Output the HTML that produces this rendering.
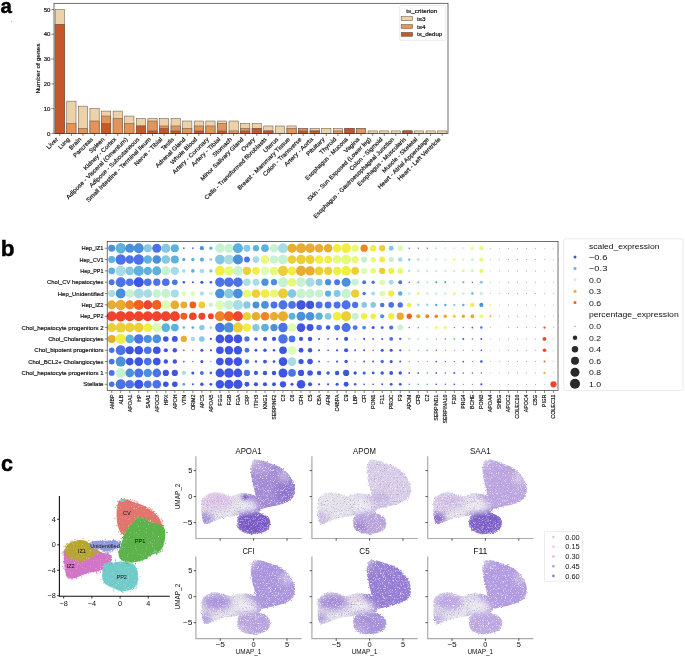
<!DOCTYPE html><html><head><meta charset="utf-8"><style>html,body{margin:0;padding:0;background:#fff;}svg{display:block;}text{font-family:"Liberation Sans",sans-serif;fill:#111;}.s{stroke:#111;stroke-width:0.18px;paint-order:stroke;}.m{stroke:#111;stroke-width:0.08px;}.L{fill:#000;stroke:#000;stroke-width:0.45px;}svg{will-change:transform;}</style></head><body>
<svg width="685" height="657" viewBox="0 0 685 657">
<defs><filter id="rough" x="-10%" y="-10%" width="120%" height="120%"><feTurbulence type="fractalNoise" baseFrequency="0.6" numOctaves="2" seed="3" result="n"/><feDisplacementMap in="SourceGraphic" in2="n" scale="2.2" xChannelSelector="R" yChannelSelector="G"/></filter><filter id="edge" x="-10%" y="-10%" width="120%" height="120%"><feTurbulence type="fractalNoise" baseFrequency="0.7" numOctaves="2" seed="5" result="n"/><feDisplacementMap in="SourceGraphic" in2="n" scale="3" xChannelSelector="R" yChannelSelector="G" result="d"/><feGaussianBlur in="d" stdDeviation="0.5"/></filter><filter id="blur" x="-30%" y="-30%" width="160%" height="160%"><feGaussianBlur stdDeviation="3"/></filter><filter id="blur1" x="-50%" y="-50%" width="200%" height="200%"><feGaussianBlur stdDeviation="1"/></filter><filter id="spkw" x="0" y="0" width="100%" height="100%"><feTurbulence type="fractalNoise" baseFrequency="1.6" numOctaves="1" seed="11"/><feColorMatrix type="matrix" values="0 0 0 0 1  0 0 0 0 1  0 0 0 0 1  3 0 0 0 -1.62"/></filter><filter id="spkp" x="0" y="0" width="100%" height="100%"><feTurbulence type="fractalNoise" baseFrequency="1.3" numOctaves="1" seed="23"/><feColorMatrix type="matrix" values="0 0 0 0 0.42  0 0 0 0 0.3  0 0 0 0 0.75  4 0 0 0 -2.3"/></filter><filter id="spkw2" x="0" y="0" width="100%" height="100%"><feTurbulence type="fractalNoise" baseFrequency="1.5" numOctaves="1" seed="4"/><feColorMatrix type="matrix" values="0 0 0 0 1  0 0 0 0 1  0 0 0 0 1  3 0 0 0 -1.95"/><feComposite in2="SourceGraphic" operator="in"/></filter></defs>
<rect width="685" height="657" fill="#fff"/>
<text x="0.6" y="12.6" font-size="20.5" font-weight="bold" class="L">a</text>
<circle cx="11.4" cy="21.4" r="0.5" fill="#999"/>
<rect x="55.16" y="9.5" width="9.27" height="123.9" fill="#ecd2aa" stroke="#6e5a48" stroke-width="0.55"/>
<rect x="55.16" y="24.36" width="9.27" height="109.04" fill="#e3945a" stroke="#6e5a48" stroke-width="0.55"/>
<rect x="55.16" y="24.36" width="9.27" height="109.04" fill="#c5582a" stroke="#6e5a48" stroke-width="0.55"/>
<rect x="66.75" y="101.18" width="9.27" height="32.22" fill="#ecd2aa" stroke="#6e5a48" stroke-width="0.55"/>
<rect x="66.75" y="123.49" width="9.27" height="9.91" fill="#e3945a" stroke="#6e5a48" stroke-width="0.55"/>
<rect x="78.34" y="106.14" width="9.27" height="27.26" fill="#ecd2aa" stroke="#6e5a48" stroke-width="0.55"/>
<rect x="78.34" y="128.44" width="9.27" height="4.96" fill="#e3945a" stroke="#6e5a48" stroke-width="0.55"/>
<rect x="89.92" y="108.62" width="9.27" height="24.78" fill="#ecd2aa" stroke="#6e5a48" stroke-width="0.55"/>
<rect x="89.92" y="121.01" width="9.27" height="12.39" fill="#e3945a" stroke="#6e5a48" stroke-width="0.55"/>
<rect x="101.51" y="111.1" width="9.27" height="22.3" fill="#ecd2aa" stroke="#6e5a48" stroke-width="0.55"/>
<rect x="101.51" y="116.05" width="9.27" height="17.35" fill="#e3945a" stroke="#6e5a48" stroke-width="0.55"/>
<rect x="101.51" y="123.49" width="9.27" height="9.91" fill="#c5582a" stroke="#6e5a48" stroke-width="0.55"/>
<rect x="113.1" y="111.1" width="9.27" height="22.3" fill="#ecd2aa" stroke="#6e5a48" stroke-width="0.55"/>
<rect x="113.1" y="118.53" width="9.27" height="14.87" fill="#e3945a" stroke="#6e5a48" stroke-width="0.55"/>
<rect x="124.69" y="116.05" width="9.27" height="17.35" fill="#ecd2aa" stroke="#6e5a48" stroke-width="0.55"/>
<rect x="124.69" y="123.49" width="9.27" height="9.91" fill="#e3945a" stroke="#6e5a48" stroke-width="0.55"/>
<rect x="136.28" y="118.53" width="9.27" height="14.87" fill="#ecd2aa" stroke="#6e5a48" stroke-width="0.55"/>
<rect x="136.28" y="125.97" width="9.27" height="7.43" fill="#e3945a" stroke="#6e5a48" stroke-width="0.55"/>
<rect x="136.28" y="125.97" width="9.27" height="7.43" fill="#c5582a" stroke="#6e5a48" stroke-width="0.55"/>
<rect x="147.86" y="118.53" width="9.27" height="14.87" fill="#ecd2aa" stroke="#6e5a48" stroke-width="0.55"/>
<rect x="147.86" y="121.01" width="9.27" height="12.39" fill="#e3945a" stroke="#6e5a48" stroke-width="0.55"/>
<rect x="147.86" y="130.92" width="9.27" height="2.48" fill="#c5582a" stroke="#6e5a48" stroke-width="0.55"/>
<rect x="159.45" y="118.53" width="9.27" height="14.87" fill="#ecd2aa" stroke="#6e5a48" stroke-width="0.55"/>
<rect x="159.45" y="125.97" width="9.27" height="7.43" fill="#e3945a" stroke="#6e5a48" stroke-width="0.55"/>
<rect x="159.45" y="128.44" width="9.27" height="4.96" fill="#c5582a" stroke="#6e5a48" stroke-width="0.55"/>
<rect x="171.04" y="118.53" width="9.27" height="14.87" fill="#ecd2aa" stroke="#6e5a48" stroke-width="0.55"/>
<rect x="171.04" y="125.97" width="9.27" height="7.43" fill="#e3945a" stroke="#6e5a48" stroke-width="0.55"/>
<rect x="171.04" y="130.92" width="9.27" height="2.48" fill="#c5582a" stroke="#6e5a48" stroke-width="0.55"/>
<rect x="182.63" y="121.01" width="9.27" height="12.39" fill="#ecd2aa" stroke="#6e5a48" stroke-width="0.55"/>
<rect x="182.63" y="128.44" width="9.27" height="4.96" fill="#e3945a" stroke="#6e5a48" stroke-width="0.55"/>
<rect x="194.22" y="121.01" width="9.27" height="12.39" fill="#ecd2aa" stroke="#6e5a48" stroke-width="0.55"/>
<rect x="194.22" y="125.97" width="9.27" height="7.43" fill="#e3945a" stroke="#6e5a48" stroke-width="0.55"/>
<rect x="194.22" y="130.92" width="9.27" height="2.48" fill="#c5582a" stroke="#6e5a48" stroke-width="0.55"/>
<rect x="205.81" y="121.01" width="9.27" height="12.39" fill="#ecd2aa" stroke="#6e5a48" stroke-width="0.55"/>
<rect x="205.81" y="125.97" width="9.27" height="7.43" fill="#e3945a" stroke="#6e5a48" stroke-width="0.55"/>
<rect x="217.39" y="121.01" width="9.27" height="12.39" fill="#ecd2aa" stroke="#6e5a48" stroke-width="0.55"/>
<rect x="217.39" y="123.49" width="9.27" height="9.91" fill="#e3945a" stroke="#6e5a48" stroke-width="0.55"/>
<rect x="217.39" y="130.92" width="9.27" height="2.48" fill="#c5582a" stroke="#6e5a48" stroke-width="0.55"/>
<rect x="228.98" y="121.01" width="9.27" height="12.39" fill="#ecd2aa" stroke="#6e5a48" stroke-width="0.55"/>
<rect x="228.98" y="130.92" width="9.27" height="2.48" fill="#e3945a" stroke="#6e5a48" stroke-width="0.55"/>
<rect x="240.57" y="123.49" width="9.27" height="9.91" fill="#ecd2aa" stroke="#6e5a48" stroke-width="0.55"/>
<rect x="240.57" y="128.44" width="9.27" height="4.96" fill="#e3945a" stroke="#6e5a48" stroke-width="0.55"/>
<rect x="240.57" y="130.92" width="9.27" height="2.48" fill="#c5582a" stroke="#6e5a48" stroke-width="0.55"/>
<rect x="252.16" y="123.49" width="9.27" height="9.91" fill="#ecd2aa" stroke="#6e5a48" stroke-width="0.55"/>
<rect x="252.16" y="128.44" width="9.27" height="4.96" fill="#e3945a" stroke="#6e5a48" stroke-width="0.55"/>
<rect x="252.16" y="128.44" width="9.27" height="4.96" fill="#c5582a" stroke="#6e5a48" stroke-width="0.55"/>
<rect x="263.75" y="125.97" width="9.27" height="7.43" fill="#ecd2aa" stroke="#6e5a48" stroke-width="0.55"/>
<rect x="263.75" y="130.92" width="9.27" height="2.48" fill="#e3945a" stroke="#6e5a48" stroke-width="0.55"/>
<rect x="263.75" y="130.92" width="9.27" height="2.48" fill="#c5582a" stroke="#6e5a48" stroke-width="0.55"/>
<rect x="275.34" y="125.97" width="9.27" height="7.43" fill="#ecd2aa" stroke="#6e5a48" stroke-width="0.55"/>
<rect x="286.92" y="125.97" width="9.27" height="7.43" fill="#ecd2aa" stroke="#6e5a48" stroke-width="0.55"/>
<rect x="286.92" y="128.44" width="9.27" height="4.96" fill="#e3945a" stroke="#6e5a48" stroke-width="0.55"/>
<rect x="298.51" y="128.44" width="9.27" height="4.96" fill="#ecd2aa" stroke="#6e5a48" stroke-width="0.55"/>
<rect x="298.51" y="128.44" width="9.27" height="4.96" fill="#e3945a" stroke="#6e5a48" stroke-width="0.55"/>
<rect x="298.51" y="130.92" width="9.27" height="2.48" fill="#c5582a" stroke="#6e5a48" stroke-width="0.55"/>
<rect x="310.1" y="128.44" width="9.27" height="4.96" fill="#ecd2aa" stroke="#6e5a48" stroke-width="0.55"/>
<rect x="310.1" y="130.92" width="9.27" height="2.48" fill="#e3945a" stroke="#6e5a48" stroke-width="0.55"/>
<rect x="310.1" y="130.92" width="9.27" height="2.48" fill="#c5582a" stroke="#6e5a48" stroke-width="0.55"/>
<rect x="321.69" y="128.44" width="9.27" height="4.96" fill="#ecd2aa" stroke="#6e5a48" stroke-width="0.55"/>
<rect x="333.28" y="128.44" width="9.27" height="4.96" fill="#ecd2aa" stroke="#6e5a48" stroke-width="0.55"/>
<rect x="333.28" y="130.92" width="9.27" height="2.48" fill="#e3945a" stroke="#6e5a48" stroke-width="0.55"/>
<rect x="344.86" y="128.44" width="9.27" height="4.96" fill="#ecd2aa" stroke="#6e5a48" stroke-width="0.55"/>
<rect x="344.86" y="128.44" width="9.27" height="4.96" fill="#e3945a" stroke="#6e5a48" stroke-width="0.55"/>
<rect x="344.86" y="128.44" width="9.27" height="4.96" fill="#c5582a" stroke="#6e5a48" stroke-width="0.55"/>
<rect x="356.45" y="128.44" width="9.27" height="4.96" fill="#ecd2aa" stroke="#6e5a48" stroke-width="0.55"/>
<rect x="356.45" y="128.44" width="9.27" height="4.96" fill="#e3945a" stroke="#6e5a48" stroke-width="0.55"/>
<rect x="368.04" y="130.92" width="9.27" height="2.48" fill="#ecd2aa" stroke="#6e5a48" stroke-width="0.55"/>
<rect x="379.63" y="130.92" width="9.27" height="2.48" fill="#ecd2aa" stroke="#6e5a48" stroke-width="0.55"/>
<rect x="391.22" y="130.92" width="9.27" height="2.48" fill="#ecd2aa" stroke="#6e5a48" stroke-width="0.55"/>
<rect x="402.81" y="130.92" width="9.27" height="2.48" fill="#ecd2aa" stroke="#6e5a48" stroke-width="0.55"/>
<rect x="402.81" y="130.92" width="9.27" height="2.48" fill="#e3945a" stroke="#6e5a48" stroke-width="0.55"/>
<rect x="402.81" y="130.92" width="9.27" height="2.48" fill="#c5582a" stroke="#6e5a48" stroke-width="0.55"/>
<rect x="414.39" y="130.92" width="9.27" height="2.48" fill="#ecd2aa" stroke="#6e5a48" stroke-width="0.55"/>
<rect x="425.98" y="130.92" width="9.27" height="2.48" fill="#ecd2aa" stroke="#6e5a48" stroke-width="0.55"/>
<rect x="437.57" y="130.92" width="9.27" height="2.48" fill="#ecd2aa" stroke="#6e5a48" stroke-width="0.55"/>
<rect x="54.0" y="3.3" width="394.0" height="130.1" fill="none" stroke="#333" stroke-width="0.7"/>
<line x1="51.4" y1="133.4" x2="54.0" y2="133.4" stroke="#333" stroke-width="0.6"/>
<text x="50.4" y="135.5" font-size="5.51" text-anchor="end" class="s" textLength="3.37" lengthAdjust="spacingAndGlyphs">0</text>
<line x1="51.4" y1="108.62" x2="54.0" y2="108.62" stroke="#333" stroke-width="0.6"/>
<text x="50.4" y="110.72" font-size="5.51" text-anchor="end" class="s" textLength="6.74" lengthAdjust="spacingAndGlyphs">10</text>
<line x1="51.4" y1="83.84" x2="54.0" y2="83.84" stroke="#333" stroke-width="0.6"/>
<text x="50.4" y="85.94" font-size="5.51" text-anchor="end" class="s" textLength="6.74" lengthAdjust="spacingAndGlyphs">20</text>
<line x1="51.4" y1="59.06" x2="54.0" y2="59.06" stroke="#333" stroke-width="0.6"/>
<text x="50.4" y="61.16" font-size="5.51" text-anchor="end" class="s" textLength="6.74" lengthAdjust="spacingAndGlyphs">30</text>
<line x1="51.4" y1="34.28" x2="54.0" y2="34.28" stroke="#333" stroke-width="0.6"/>
<text x="50.4" y="36.38" font-size="5.51" text-anchor="end" class="s" textLength="6.74" lengthAdjust="spacingAndGlyphs">40</text>
<line x1="51.4" y1="9.5" x2="54.0" y2="9.5" stroke="#333" stroke-width="0.6"/>
<text x="50.4" y="11.6" font-size="5.51" text-anchor="end" class="s" textLength="6.74" lengthAdjust="spacingAndGlyphs">50</text>
<text transform="translate(40.2,68.6) rotate(-90)" font-size="6.02" text-anchor="middle" class="s" textLength="50.01" lengthAdjust="spacingAndGlyphs">Number of genes</text>
<line x1="59.79" y1="133.4" x2="59.79" y2="136.0" stroke="#333" stroke-width="0.6"/>
<text transform="translate(58.49,139.8) rotate(-45)" font-size="5.84" text-anchor="end" class="s" textLength="13.79" lengthAdjust="spacingAndGlyphs">Liver</text>
<line x1="71.38" y1="133.4" x2="71.38" y2="136.0" stroke="#333" stroke-width="0.6"/>
<text transform="translate(70.08,139.8) rotate(-45)" font-size="5.84" text-anchor="end" class="s" textLength="13.72" lengthAdjust="spacingAndGlyphs">Lung</text>
<line x1="82.97" y1="133.4" x2="82.97" y2="136.0" stroke="#333" stroke-width="0.6"/>
<text transform="translate(81.67,139.8) rotate(-45)" font-size="5.84" text-anchor="end" class="s" textLength="14.73" lengthAdjust="spacingAndGlyphs">Brain</text>
<line x1="94.56" y1="133.4" x2="94.56" y2="136.0" stroke="#333" stroke-width="0.6"/>
<text transform="translate(93.26,139.8) rotate(-45)" font-size="5.84" text-anchor="end" class="s" textLength="25.25" lengthAdjust="spacingAndGlyphs">Pancreas</text>
<line x1="106.15" y1="133.4" x2="106.15" y2="136.0" stroke="#333" stroke-width="0.6"/>
<text transform="translate(104.85,139.8) rotate(-45)" font-size="5.84" text-anchor="end" class="s" textLength="19.17" lengthAdjust="spacingAndGlyphs">Spleen</text>
<line x1="117.74" y1="133.4" x2="117.74" y2="136.0" stroke="#333" stroke-width="0.6"/>
<text transform="translate(116.44,139.8) rotate(-45)" font-size="5.84" text-anchor="end" class="s" textLength="43.32" lengthAdjust="spacingAndGlyphs">Kidney - Cortex</text>
<line x1="129.32" y1="133.4" x2="129.32" y2="136.0" stroke="#333" stroke-width="0.6"/>
<text transform="translate(128.02,139.8) rotate(-45)" font-size="5.84" text-anchor="end" class="s" textLength="84.27" lengthAdjust="spacingAndGlyphs">Adipose - Visceral (Omentum)</text>
<line x1="140.91" y1="133.4" x2="140.91" y2="136.0" stroke="#333" stroke-width="0.6"/>
<text transform="translate(139.61,139.8) rotate(-45)" font-size="5.84" text-anchor="end" class="s" textLength="67.81" lengthAdjust="spacingAndGlyphs">Adipose - Subcutaneous</text>
<line x1="152.5" y1="133.4" x2="152.5" y2="136.0" stroke="#333" stroke-width="0.6"/>
<text transform="translate(151.2,139.8) rotate(-45)" font-size="5.84" text-anchor="end" class="s" textLength="88.84" lengthAdjust="spacingAndGlyphs">Small Intestine - Terminal Ileum</text>
<line x1="164.09" y1="133.4" x2="164.09" y2="136.0" stroke="#333" stroke-width="0.6"/>
<text transform="translate(162.79,139.8) rotate(-45)" font-size="5.84" text-anchor="end" class="s" textLength="37.31" lengthAdjust="spacingAndGlyphs">Nerve - Tibial</text>
<line x1="175.68" y1="133.4" x2="175.68" y2="136.0" stroke="#333" stroke-width="0.6"/>
<text transform="translate(174.38,139.8) rotate(-45)" font-size="5.84" text-anchor="end" class="s" textLength="15.56" lengthAdjust="spacingAndGlyphs">Testis</text>
<line x1="187.26" y1="133.4" x2="187.26" y2="136.0" stroke="#333" stroke-width="0.6"/>
<text transform="translate(185.96,139.8) rotate(-45)" font-size="5.84" text-anchor="end" class="s" textLength="39.8" lengthAdjust="spacingAndGlyphs">Adrenal Gland</text>
<line x1="198.85" y1="133.4" x2="198.85" y2="136.0" stroke="#333" stroke-width="0.6"/>
<text transform="translate(197.55,139.8) rotate(-45)" font-size="5.84" text-anchor="end" class="s" textLength="35.23" lengthAdjust="spacingAndGlyphs">Whole Blood</text>
<line x1="210.44" y1="133.4" x2="210.44" y2="136.0" stroke="#333" stroke-width="0.6"/>
<text transform="translate(209.14,139.8) rotate(-45)" font-size="5.84" text-anchor="end" class="s" textLength="48.68" lengthAdjust="spacingAndGlyphs">Artery - Coronary</text>
<line x1="222.03" y1="133.4" x2="222.03" y2="136.0" stroke="#333" stroke-width="0.6"/>
<text transform="translate(220.73,139.8) rotate(-45)" font-size="5.84" text-anchor="end" class="s" textLength="38.01" lengthAdjust="spacingAndGlyphs">Artery - Tibial</text>
<line x1="233.62" y1="133.4" x2="233.62" y2="136.0" stroke="#333" stroke-width="0.6"/>
<text transform="translate(232.32,139.8) rotate(-45)" font-size="5.84" text-anchor="end" class="s" textLength="24.78" lengthAdjust="spacingAndGlyphs">Stomach</text>
<line x1="245.21" y1="133.4" x2="245.21" y2="136.0" stroke="#333" stroke-width="0.6"/>
<text transform="translate(243.91,139.8) rotate(-45)" font-size="5.84" text-anchor="end" class="s" textLength="58.32" lengthAdjust="spacingAndGlyphs">Minor Salivary Gland</text>
<line x1="256.79" y1="133.4" x2="256.79" y2="136.0" stroke="#333" stroke-width="0.6"/>
<text transform="translate(255.49,139.8) rotate(-45)" font-size="5.84" text-anchor="end" class="s" textLength="16.83" lengthAdjust="spacingAndGlyphs">Ovary</text>
<line x1="268.38" y1="133.4" x2="268.38" y2="136.0" stroke="#333" stroke-width="0.6"/>
<text transform="translate(267.08,139.8) rotate(-45)" font-size="5.84" text-anchor="end" class="s" textLength="85.16" lengthAdjust="spacingAndGlyphs">Cells - Transformed fibroblasts</text>
<line x1="279.97" y1="133.4" x2="279.97" y2="136.0" stroke="#333" stroke-width="0.6"/>
<text transform="translate(278.67,139.8) rotate(-45)" font-size="5.84" text-anchor="end" class="s" textLength="18.57" lengthAdjust="spacingAndGlyphs">Uterus</text>
<line x1="291.56" y1="133.4" x2="291.56" y2="136.0" stroke="#333" stroke-width="0.6"/>
<text transform="translate(290.26,139.8) rotate(-45)" font-size="5.84" text-anchor="end" class="s" textLength="71.48" lengthAdjust="spacingAndGlyphs">Breast - Mammary Tissue</text>
<line x1="303.15" y1="133.4" x2="303.15" y2="136.0" stroke="#333" stroke-width="0.6"/>
<text transform="translate(301.85,139.8) rotate(-45)" font-size="5.84" text-anchor="end" class="s" textLength="51.86" lengthAdjust="spacingAndGlyphs">Colon - Transverse</text>
<line x1="314.74" y1="133.4" x2="314.74" y2="136.0" stroke="#333" stroke-width="0.6"/>
<text transform="translate(313.44,139.8) rotate(-45)" font-size="5.84" text-anchor="end" class="s" textLength="38.19" lengthAdjust="spacingAndGlyphs">Artery - Aorta</text>
<line x1="326.32" y1="133.4" x2="326.32" y2="136.0" stroke="#333" stroke-width="0.6"/>
<text transform="translate(325.02,139.8) rotate(-45)" font-size="5.84" text-anchor="end" class="s" textLength="23.44" lengthAdjust="spacingAndGlyphs">Pituitary</text>
<line x1="337.91" y1="133.4" x2="337.91" y2="136.0" stroke="#333" stroke-width="0.6"/>
<text transform="translate(336.61,139.8) rotate(-45)" font-size="5.84" text-anchor="end" class="s" textLength="21.07" lengthAdjust="spacingAndGlyphs">Thyroid</text>
<line x1="349.5" y1="133.4" x2="349.5" y2="136.0" stroke="#333" stroke-width="0.6"/>
<text transform="translate(348.2,139.8) rotate(-45)" font-size="5.84" text-anchor="end" class="s" textLength="57.46" lengthAdjust="spacingAndGlyphs">Esophagus - Mucosa</text>
<line x1="361.09" y1="133.4" x2="361.09" y2="136.0" stroke="#333" stroke-width="0.6"/>
<text transform="translate(359.79,139.8) rotate(-45)" font-size="5.84" text-anchor="end" class="s" textLength="18.99" lengthAdjust="spacingAndGlyphs">Vagina</text>
<line x1="372.68" y1="133.4" x2="372.68" y2="136.0" stroke="#333" stroke-width="0.6"/>
<text transform="translate(371.38,139.8) rotate(-45)" font-size="5.84" text-anchor="end" class="s" textLength="87.24" lengthAdjust="spacingAndGlyphs">Skin - Sun Exposed (Lower leg)</text>
<line x1="384.26" y1="133.4" x2="384.26" y2="136.0" stroke="#333" stroke-width="0.6"/>
<text transform="translate(382.96,139.8) rotate(-45)" font-size="5.84" text-anchor="end" class="s" textLength="44.26" lengthAdjust="spacingAndGlyphs">Colon - Sigmoid</text>
<line x1="395.85" y1="133.4" x2="395.85" y2="136.0" stroke="#333" stroke-width="0.6"/>
<text transform="translate(394.55,139.8) rotate(-45)" font-size="5.84" text-anchor="end" class="s" textLength="111.55" lengthAdjust="spacingAndGlyphs">Esophagus - Gastroesophageal Junction</text>
<line x1="407.44" y1="133.4" x2="407.44" y2="136.0" stroke="#333" stroke-width="0.6"/>
<text transform="translate(406.14,139.8) rotate(-45)" font-size="5.84" text-anchor="end" class="s" textLength="65.94" lengthAdjust="spacingAndGlyphs">Esophagus - Muscularis</text>
<line x1="419.03" y1="133.4" x2="419.03" y2="136.0" stroke="#333" stroke-width="0.6"/>
<text transform="translate(417.73,139.8) rotate(-45)" font-size="5.84" text-anchor="end" class="s" textLength="47.36" lengthAdjust="spacingAndGlyphs">Muscle - Skeletal</text>
<line x1="430.62" y1="133.4" x2="430.62" y2="136.0" stroke="#333" stroke-width="0.6"/>
<text transform="translate(429.32,139.8) rotate(-45)" font-size="5.84" text-anchor="end" class="s" textLength="69.89" lengthAdjust="spacingAndGlyphs">Heart - Atrial Appendage</text>
<line x1="442.21" y1="133.4" x2="442.21" y2="136.0" stroke="#333" stroke-width="0.6"/>
<text transform="translate(440.91,139.8) rotate(-45)" font-size="5.84" text-anchor="end" class="s" textLength="58.21" lengthAdjust="spacingAndGlyphs">Heart - Left Ventricle</text>
<rect x="399.7" y="5.6" width="46" height="34.8" rx="1.5" fill="#fff" fill-opacity="0.8" stroke="#ddd" stroke-width="0.6"/>
<text x="421.8" y="12.6" font-size="5.52" text-anchor="middle" class="s" textLength="30.88" lengthAdjust="spacingAndGlyphs">ts_criterion</text>
<rect x="401.2" y="16.7" width="11.5" height="4" fill="#ecd2aa" stroke="#6e5a48" stroke-width="0.55"/>
<text x="417" y="20.8" font-size="5.74" class="s" textLength="8.55" lengthAdjust="spacingAndGlyphs">ts3</text>
<rect x="401.2" y="24.5" width="11.5" height="4" fill="#e3945a" stroke="#6e5a48" stroke-width="0.55"/>
<text x="417" y="28.6" font-size="5.74" class="s" textLength="8.55" lengthAdjust="spacingAndGlyphs">ts4</text>
<rect x="401.2" y="32.3" width="11.5" height="4" fill="#c5582a" stroke="#6e5a48" stroke-width="0.55"/>
<text x="417" y="36.4" font-size="5.74" class="s" textLength="25.21" lengthAdjust="spacingAndGlyphs">ts_dedup</text>
<text x="0.8" y="255.9" font-size="22.5" font-weight="bold" class="L">b</text>
<circle cx="111.71" cy="248.2" r="3.49" fill="#4a90da"/>
<circle cx="120.72" cy="248.2" r="5.23" fill="#5cb2dc"/>
<circle cx="129.74" cy="248.2" r="4.53" fill="#4a90da"/>
<circle cx="138.76" cy="248.2" r="5.02" fill="#4a90da"/>
<circle cx="147.77" cy="248.2" r="4.04" fill="#84c8e2"/>
<circle cx="156.79" cy="248.2" r="4.53" fill="#4b72e6"/>
<circle cx="165.8" cy="248.2" r="4.53" fill="#84c8e2"/>
<circle cx="174.82" cy="248.2" r="4.04" fill="#5cb2dc"/>
<circle cx="183.84" cy="248.2" r="0.84" fill="#4b72e6"/>
<circle cx="192.85" cy="248.2" r="0.84" fill="#4b72e6"/>
<circle cx="201.87" cy="248.2" r="2.09" fill="#4a90da"/>
<circle cx="210.88" cy="248.2" r="1.67" fill="#5cb2dc"/>
<circle cx="219.9" cy="248.2" r="4.74" fill="#c6f2d2"/>
<circle cx="228.92" cy="248.2" r="4.53" fill="#c6f2d2"/>
<circle cx="237.93" cy="248.2" r="5.02" fill="#5cb2dc"/>
<circle cx="246.95" cy="248.2" r="3.49" fill="#84c8e2"/>
<circle cx="255.96" cy="248.2" r="3.14" fill="#5cb2dc"/>
<circle cx="264.98" cy="248.2" r="3.83" fill="#5cb2dc"/>
<circle cx="274" cy="248.2" r="4.04" fill="#c6f2d2"/>
<circle cx="283.01" cy="248.2" r="5.02" fill="#a8dce4"/>
<circle cx="292.03" cy="248.2" r="4.53" fill="#e8ad30"/>
<circle cx="301.04" cy="248.2" r="5.02" fill="#e8ad30"/>
<circle cx="310.06" cy="248.2" r="4.74" fill="#e8ad30"/>
<circle cx="319.08" cy="248.2" r="4.32" fill="#e8ad30"/>
<circle cx="328.09" cy="248.2" r="4.32" fill="#e8ad30"/>
<circle cx="337.11" cy="248.2" r="4.18" fill="#f0ee40"/>
<circle cx="346.12" cy="248.2" r="4.88" fill="#f0ee40"/>
<circle cx="355.14" cy="248.2" r="3.63" fill="#e6fa78"/>
<circle cx="364.16" cy="248.2" r="3.63" fill="#ef8326"/>
<circle cx="373.17" cy="248.2" r="3.14" fill="#f0ee40"/>
<circle cx="382.19" cy="248.2" r="3.14" fill="#eccf36"/>
<circle cx="391.2" cy="248.2" r="2.44" fill="#84c8e2"/>
<circle cx="400.22" cy="248.2" r="2.79" fill="#dcfcb4"/>
<circle cx="409.24" cy="248.2" r="0.7" fill="#4b72e6"/>
<circle cx="418.25" cy="248.2" r="0.7" fill="#4b72e6"/>
<circle cx="427.27" cy="248.2" r="0.7" fill="#4b72e6"/>
<circle cx="436.28" cy="248.2" r="0.84" fill="#a8dce4"/>
<circle cx="445.3" cy="248.2" r="0.98" fill="#c6f2d2"/>
<circle cx="454.32" cy="248.2" r="0.98" fill="#c6f2d2"/>
<circle cx="463.33" cy="248.2" r="0.98" fill="#c6f2d2"/>
<circle cx="472.35" cy="248.2" r="1.53" fill="#e6fa78"/>
<circle cx="481.36" cy="248.2" r="2.09" fill="#e6fa78"/>
<circle cx="490.38" cy="248.2" r="0.5" fill="#8cc48c"/>
<circle cx="499.4" cy="248.2" r="0.5" fill="#8cc48c"/>
<circle cx="508.41" cy="248.2" r="0.5" fill="#7f8cd6"/>
<circle cx="517.43" cy="248.2" r="0.5" fill="#7f8cd6"/>
<circle cx="526.44" cy="248.2" r="0.5" fill="#7f8cd6"/>
<circle cx="535.46" cy="248.2" r="0.5" fill="#7f8cd6"/>
<circle cx="544.48" cy="248.2" r="0.5" fill="#8cc48c"/>
<circle cx="553.49" cy="248.2" r="0.5" fill="#8cc48c"/>
<circle cx="111.71" cy="259.54" r="3.49" fill="#5cb2dc"/>
<circle cx="120.72" cy="259.54" r="5.23" fill="#4b72e6"/>
<circle cx="129.74" cy="259.54" r="4.18" fill="#4b72e6"/>
<circle cx="138.76" cy="259.54" r="5.23" fill="#4b72e6"/>
<circle cx="147.77" cy="259.54" r="4.18" fill="#5cb2dc"/>
<circle cx="156.79" cy="259.54" r="4.32" fill="#4a90da"/>
<circle cx="165.8" cy="259.54" r="4.32" fill="#84c8e2"/>
<circle cx="174.82" cy="259.54" r="4.04" fill="#5cb2dc"/>
<circle cx="183.84" cy="259.54" r="1.67" fill="#5cb2dc"/>
<circle cx="192.85" cy="259.54" r="1.67" fill="#5cb2dc"/>
<circle cx="201.87" cy="259.54" r="2.09" fill="#5cb2dc"/>
<circle cx="210.88" cy="259.54" r="1.67" fill="#a8dce4"/>
<circle cx="219.9" cy="259.54" r="4.88" fill="#84c8e2"/>
<circle cx="228.92" cy="259.54" r="4.88" fill="#a8dce4"/>
<circle cx="237.93" cy="259.54" r="5.02" fill="#4a90da"/>
<circle cx="246.95" cy="259.54" r="2.93" fill="#4b72e6"/>
<circle cx="255.96" cy="259.54" r="3.35" fill="#a8dce4"/>
<circle cx="264.98" cy="259.54" r="4.18" fill="#e6fa78"/>
<circle cx="274" cy="259.54" r="4.04" fill="#c6f2d2"/>
<circle cx="283.01" cy="259.54" r="5.02" fill="#c6f2d2"/>
<circle cx="292.03" cy="259.54" r="4.32" fill="#eccf36"/>
<circle cx="301.04" cy="259.54" r="4.74" fill="#eccf36"/>
<circle cx="310.06" cy="259.54" r="4.53" fill="#eccf36"/>
<circle cx="319.08" cy="259.54" r="4.18" fill="#f0ee40"/>
<circle cx="328.09" cy="259.54" r="3.83" fill="#f0ee40"/>
<circle cx="337.11" cy="259.54" r="4.18" fill="#e6fa78"/>
<circle cx="346.12" cy="259.54" r="4.88" fill="#e6fa78"/>
<circle cx="355.14" cy="259.54" r="3.63" fill="#e6fa78"/>
<circle cx="364.16" cy="259.54" r="3.14" fill="#c6f2d2"/>
<circle cx="373.17" cy="259.54" r="2.65" fill="#e6fa78"/>
<circle cx="382.19" cy="259.54" r="2.93" fill="#f0ee40"/>
<circle cx="391.2" cy="259.54" r="2.65" fill="#c6f2d2"/>
<circle cx="400.22" cy="259.54" r="2.23" fill="#a8dce4"/>
<circle cx="409.24" cy="259.54" r="1.12" fill="#5cb2dc"/>
<circle cx="418.25" cy="259.54" r="1.25" fill="#a8dce4"/>
<circle cx="427.27" cy="259.54" r="1.12" fill="#c6f2d2"/>
<circle cx="436.28" cy="259.54" r="0.98" fill="#a8dce4"/>
<circle cx="445.3" cy="259.54" r="1.12" fill="#c6f2d2"/>
<circle cx="454.32" cy="259.54" r="1.25" fill="#e6fa78"/>
<circle cx="463.33" cy="259.54" r="1.12" fill="#c6f2d2"/>
<circle cx="472.35" cy="259.54" r="1.39" fill="#c6f2d2"/>
<circle cx="481.36" cy="259.54" r="2.09" fill="#e6fa78"/>
<circle cx="490.38" cy="259.54" r="0.5" fill="#8cc48c"/>
<circle cx="499.4" cy="259.54" r="0.5" fill="#8cc48c"/>
<circle cx="508.41" cy="259.54" r="0.5" fill="#7f8cd6"/>
<circle cx="517.43" cy="259.54" r="0.5" fill="#7f8cd6"/>
<circle cx="526.44" cy="259.54" r="0.5" fill="#7f8cd6"/>
<circle cx="535.46" cy="259.54" r="0.5" fill="#7f8cd6"/>
<circle cx="544.48" cy="259.54" r="0.5" fill="#8cc48c"/>
<circle cx="553.49" cy="259.54" r="0.5" fill="#8cc48c"/>
<circle cx="111.71" cy="270.88" r="3.35" fill="#5cb2dc"/>
<circle cx="120.72" cy="270.88" r="5.23" fill="#a8dce4"/>
<circle cx="129.74" cy="270.88" r="4.32" fill="#84c8e2"/>
<circle cx="138.76" cy="270.88" r="5.02" fill="#5cb2dc"/>
<circle cx="147.77" cy="270.88" r="4.18" fill="#5cb2dc"/>
<circle cx="156.79" cy="270.88" r="4.53" fill="#5cb2dc"/>
<circle cx="165.8" cy="270.88" r="4.53" fill="#c6f2d2"/>
<circle cx="174.82" cy="270.88" r="4.18" fill="#a8dce4"/>
<circle cx="183.84" cy="270.88" r="1.81" fill="#a8dce4"/>
<circle cx="192.85" cy="270.88" r="1.81" fill="#5cb2dc"/>
<circle cx="201.87" cy="270.88" r="2.23" fill="#a8dce4"/>
<circle cx="210.88" cy="270.88" r="1.74" fill="#84c8e2"/>
<circle cx="219.9" cy="270.88" r="4.88" fill="#f0ee40"/>
<circle cx="228.92" cy="270.88" r="4.74" fill="#e6fa78"/>
<circle cx="237.93" cy="270.88" r="4.88" fill="#c6f2d2"/>
<circle cx="246.95" cy="270.88" r="4.04" fill="#eccf36"/>
<circle cx="255.96" cy="270.88" r="3.83" fill="#f0ee40"/>
<circle cx="264.98" cy="270.88" r="4.04" fill="#dcfcb4"/>
<circle cx="274" cy="270.88" r="4.04" fill="#e6fa78"/>
<circle cx="283.01" cy="270.88" r="5.02" fill="#eccf36"/>
<circle cx="292.03" cy="270.88" r="4.32" fill="#f0ee40"/>
<circle cx="301.04" cy="270.88" r="5.02" fill="#e8ad30"/>
<circle cx="310.06" cy="270.88" r="4.74" fill="#e8ad30"/>
<circle cx="319.08" cy="270.88" r="4.32" fill="#eccf36"/>
<circle cx="328.09" cy="270.88" r="4.04" fill="#eccf36"/>
<circle cx="337.11" cy="270.88" r="4.04" fill="#f0ee40"/>
<circle cx="346.12" cy="270.88" r="4.88" fill="#f0ee40"/>
<circle cx="355.14" cy="270.88" r="3.83" fill="#eccf36"/>
<circle cx="364.16" cy="270.88" r="3.14" fill="#dcfcb4"/>
<circle cx="373.17" cy="270.88" r="2.79" fill="#e6fa78"/>
<circle cx="382.19" cy="270.88" r="3.14" fill="#eccf36"/>
<circle cx="391.2" cy="270.88" r="2.93" fill="#f0ee40"/>
<circle cx="400.22" cy="270.88" r="2.93" fill="#e6fa78"/>
<circle cx="409.24" cy="270.88" r="1.12" fill="#a8dce4"/>
<circle cx="418.25" cy="270.88" r="1.39" fill="#c6f2d2"/>
<circle cx="427.27" cy="270.88" r="1.25" fill="#c6f2d2"/>
<circle cx="436.28" cy="270.88" r="1.25" fill="#c6f2d2"/>
<circle cx="445.3" cy="270.88" r="1.25" fill="#c6f2d2"/>
<circle cx="454.32" cy="270.88" r="1.12" fill="#c6f2d2"/>
<circle cx="463.33" cy="270.88" r="1.39" fill="#e6fa78"/>
<circle cx="472.35" cy="270.88" r="1.39" fill="#c6f2d2"/>
<circle cx="481.36" cy="270.88" r="2.09" fill="#e6fa78"/>
<circle cx="490.38" cy="270.88" r="0.5" fill="#8cc48c"/>
<circle cx="499.4" cy="270.88" r="0.5" fill="#8cc48c"/>
<circle cx="508.41" cy="270.88" r="0.5" fill="#7f8cd6"/>
<circle cx="517.43" cy="270.88" r="0.5" fill="#7f8cd6"/>
<circle cx="526.44" cy="270.88" r="0.5" fill="#7f8cd6"/>
<circle cx="535.46" cy="270.88" r="0.5" fill="#7f8cd6"/>
<circle cx="544.48" cy="270.88" r="0.5" fill="#8cc48c"/>
<circle cx="553.49" cy="270.88" r="0.5" fill="#8cc48c"/>
<circle cx="111.71" cy="282.22" r="2.93" fill="#4b72e6"/>
<circle cx="120.72" cy="282.22" r="5.02" fill="#4b72e6"/>
<circle cx="129.74" cy="282.22" r="3.83" fill="#4b72e6"/>
<circle cx="138.76" cy="282.22" r="5.02" fill="#3d55e0"/>
<circle cx="147.77" cy="282.22" r="3.83" fill="#4b72e6"/>
<circle cx="156.79" cy="282.22" r="3.63" fill="#4b72e6"/>
<circle cx="165.8" cy="282.22" r="3.83" fill="#4b72e6"/>
<circle cx="174.82" cy="282.22" r="2.79" fill="#4b72e6"/>
<circle cx="183.84" cy="282.22" r="1.25" fill="#3d55e0"/>
<circle cx="192.85" cy="282.22" r="1.05" fill="#3d55e0"/>
<circle cx="201.87" cy="282.22" r="1.53" fill="#3d55e0"/>
<circle cx="210.88" cy="282.22" r="1.25" fill="#3d55e0"/>
<circle cx="219.9" cy="282.22" r="4.74" fill="#4b72e6"/>
<circle cx="228.92" cy="282.22" r="4.74" fill="#4b72e6"/>
<circle cx="237.93" cy="282.22" r="4.74" fill="#4b72e6"/>
<circle cx="246.95" cy="282.22" r="3.63" fill="#a8dce4"/>
<circle cx="255.96" cy="282.22" r="3.49" fill="#a8dce4"/>
<circle cx="264.98" cy="282.22" r="3.63" fill="#4a90da"/>
<circle cx="274" cy="282.22" r="3.14" fill="#4a90da"/>
<circle cx="283.01" cy="282.22" r="5.02" fill="#c6f2d2"/>
<circle cx="292.03" cy="282.22" r="4.32" fill="#e6fa78"/>
<circle cx="301.04" cy="282.22" r="4.74" fill="#c6f2d2"/>
<circle cx="310.06" cy="282.22" r="4.53" fill="#a8dce4"/>
<circle cx="319.08" cy="282.22" r="3.49" fill="#84c8e2"/>
<circle cx="328.09" cy="282.22" r="3.14" fill="#4a90da"/>
<circle cx="337.11" cy="282.22" r="2.93" fill="#4b72e6"/>
<circle cx="346.12" cy="282.22" r="4.53" fill="#4a90da"/>
<circle cx="355.14" cy="282.22" r="3.49" fill="#c6f2d2"/>
<circle cx="364.16" cy="282.22" r="1.95" fill="#4b72e6"/>
<circle cx="373.17" cy="282.22" r="1.67" fill="#4b72e6"/>
<circle cx="382.19" cy="282.22" r="2.79" fill="#dcfcb4"/>
<circle cx="391.2" cy="282.22" r="2.44" fill="#a8dce4"/>
<circle cx="400.22" cy="282.22" r="1.95" fill="#4b72e6"/>
<circle cx="409.24" cy="282.22" r="0.7" fill="#3d55e0"/>
<circle cx="418.25" cy="282.22" r="1.05" fill="#5cb2dc"/>
<circle cx="427.27" cy="282.22" r="0.98" fill="#a8dce4"/>
<circle cx="436.28" cy="282.22" r="0.98" fill="#4a90da"/>
<circle cx="445.3" cy="282.22" r="0.98" fill="#4a90da"/>
<circle cx="454.32" cy="282.22" r="0.84" fill="#a8dce4"/>
<circle cx="463.33" cy="282.22" r="1.05" fill="#5cb2dc"/>
<circle cx="472.35" cy="282.22" r="0.7" fill="#3d55e0"/>
<circle cx="481.36" cy="282.22" r="1.53" fill="#84c8e2"/>
<circle cx="490.38" cy="282.22" r="0.5" fill="#8cc48c"/>
<circle cx="499.4" cy="282.22" r="0.5" fill="#8cc48c"/>
<circle cx="508.41" cy="282.22" r="0.5" fill="#7f8cd6"/>
<circle cx="517.43" cy="282.22" r="0.5" fill="#7f8cd6"/>
<circle cx="526.44" cy="282.22" r="0.5" fill="#7f8cd6"/>
<circle cx="535.46" cy="282.22" r="0.5" fill="#7f8cd6"/>
<circle cx="544.48" cy="282.22" r="0.5" fill="#c8cc50"/>
<circle cx="553.49" cy="282.22" r="0.5" fill="#8cc48c"/>
<circle cx="111.71" cy="293.56" r="3.49" fill="#a8dce4"/>
<circle cx="120.72" cy="293.56" r="5.02" fill="#4a90da"/>
<circle cx="129.74" cy="293.56" r="4.32" fill="#c6f2d2"/>
<circle cx="138.76" cy="293.56" r="5.02" fill="#a8dce4"/>
<circle cx="147.77" cy="293.56" r="4.32" fill="#a8dce4"/>
<circle cx="156.79" cy="293.56" r="4.32" fill="#c6f2d2"/>
<circle cx="165.8" cy="293.56" r="4.53" fill="#c6f2d2"/>
<circle cx="174.82" cy="293.56" r="4.04" fill="#a8dce4"/>
<circle cx="183.84" cy="293.56" r="2.37" fill="#dcfcb4"/>
<circle cx="192.85" cy="293.56" r="2.37" fill="#dcfcb4"/>
<circle cx="201.87" cy="293.56" r="2.09" fill="#a8dce4"/>
<circle cx="210.88" cy="293.56" r="1.81" fill="#c6f2d2"/>
<circle cx="219.9" cy="293.56" r="4.74" fill="#4a90da"/>
<circle cx="228.92" cy="293.56" r="4.74" fill="#84c8e2"/>
<circle cx="237.93" cy="293.56" r="4.88" fill="#4a90da"/>
<circle cx="246.95" cy="293.56" r="4.18" fill="#e6fa78"/>
<circle cx="255.96" cy="293.56" r="4.32" fill="#eccf36"/>
<circle cx="264.98" cy="293.56" r="4.32" fill="#f0ee40"/>
<circle cx="274" cy="293.56" r="4.04" fill="#e6fa78"/>
<circle cx="283.01" cy="293.56" r="5.02" fill="#eccf36"/>
<circle cx="292.03" cy="293.56" r="4.32" fill="#84c8e2"/>
<circle cx="301.04" cy="293.56" r="4.74" fill="#c6f2d2"/>
<circle cx="310.06" cy="293.56" r="4.53" fill="#c6f2d2"/>
<circle cx="319.08" cy="293.56" r="4.04" fill="#c6f2d2"/>
<circle cx="328.09" cy="293.56" r="3.14" fill="#5cb2dc"/>
<circle cx="337.11" cy="293.56" r="3.49" fill="#84c8e2"/>
<circle cx="346.12" cy="293.56" r="4.74" fill="#c6f2d2"/>
<circle cx="355.14" cy="293.56" r="4.18" fill="#eccf36"/>
<circle cx="364.16" cy="293.56" r="1.74" fill="#4b72e6"/>
<circle cx="373.17" cy="293.56" r="1.95" fill="#a8dce4"/>
<circle cx="382.19" cy="293.56" r="2.79" fill="#dcfcb4"/>
<circle cx="391.2" cy="293.56" r="3.14" fill="#f0ee40"/>
<circle cx="400.22" cy="293.56" r="2.23" fill="#5cb2dc"/>
<circle cx="409.24" cy="293.56" r="1.53" fill="#c6f2d2"/>
<circle cx="418.25" cy="293.56" r="1.53" fill="#e6fa78"/>
<circle cx="427.27" cy="293.56" r="1.39" fill="#c6f2d2"/>
<circle cx="436.28" cy="293.56" r="1.39" fill="#c6f2d2"/>
<circle cx="445.3" cy="293.56" r="0.98" fill="#a8dce4"/>
<circle cx="454.32" cy="293.56" r="1.39" fill="#e6fa78"/>
<circle cx="463.33" cy="293.56" r="1.25" fill="#c6f2d2"/>
<circle cx="472.35" cy="293.56" r="1.25" fill="#5cb2dc"/>
<circle cx="481.36" cy="293.56" r="1.74" fill="#c6f2d2"/>
<circle cx="490.38" cy="293.56" r="0.5" fill="#8cc48c"/>
<circle cx="499.4" cy="293.56" r="0.5" fill="#8cc48c"/>
<circle cx="508.41" cy="293.56" r="0.5" fill="#7f8cd6"/>
<circle cx="517.43" cy="293.56" r="0.5" fill="#7f8cd6"/>
<circle cx="526.44" cy="293.56" r="0.5" fill="#7f8cd6"/>
<circle cx="535.46" cy="293.56" r="0.5" fill="#7f8cd6"/>
<circle cx="544.48" cy="293.56" r="0.5" fill="#8cc48c"/>
<circle cx="553.49" cy="293.56" r="0.5" fill="#8cc48c"/>
<circle cx="111.71" cy="304.9" r="4.53" fill="#e8ad30"/>
<circle cx="120.72" cy="304.9" r="5.23" fill="#e8ad30"/>
<circle cx="129.74" cy="304.9" r="4.53" fill="#ef8326"/>
<circle cx="138.76" cy="304.9" r="5.02" fill="#f2601f"/>
<circle cx="147.77" cy="304.9" r="4.53" fill="#f1432b"/>
<circle cx="156.79" cy="304.9" r="4.88" fill="#f2601f"/>
<circle cx="165.8" cy="304.9" r="4.74" fill="#dcfcb4"/>
<circle cx="174.82" cy="304.9" r="4.32" fill="#e8ad30"/>
<circle cx="183.84" cy="304.9" r="3.49" fill="#e8ad30"/>
<circle cx="192.85" cy="304.9" r="3.35" fill="#f2601f"/>
<circle cx="201.87" cy="304.9" r="3.35" fill="#eccf36"/>
<circle cx="210.88" cy="304.9" r="2.09" fill="#c6f2d2"/>
<circle cx="219.9" cy="304.9" r="4.74" fill="#dcfcb4"/>
<circle cx="228.92" cy="304.9" r="4.74" fill="#c6f2d2"/>
<circle cx="237.93" cy="304.9" r="5.02" fill="#a8dce4"/>
<circle cx="246.95" cy="304.9" r="3.63" fill="#84c8e2"/>
<circle cx="255.96" cy="304.9" r="3.49" fill="#4a90da"/>
<circle cx="264.98" cy="304.9" r="3.83" fill="#4a90da"/>
<circle cx="274" cy="304.9" r="3.49" fill="#4b72e6"/>
<circle cx="283.01" cy="304.9" r="4.53" fill="#4b72e6"/>
<circle cx="292.03" cy="304.9" r="3.83" fill="#4b72e6"/>
<circle cx="301.04" cy="304.9" r="4.74" fill="#3d55e0"/>
<circle cx="310.06" cy="304.9" r="4.04" fill="#3d55e0"/>
<circle cx="319.08" cy="304.9" r="3.49" fill="#4b72e6"/>
<circle cx="328.09" cy="304.9" r="3.49" fill="#4b72e6"/>
<circle cx="337.11" cy="304.9" r="3.49" fill="#4b72e6"/>
<circle cx="346.12" cy="304.9" r="4.53" fill="#4b72e6"/>
<circle cx="355.14" cy="304.9" r="3.14" fill="#4b72e6"/>
<circle cx="364.16" cy="304.9" r="2.79" fill="#84c8e2"/>
<circle cx="373.17" cy="304.9" r="2.79" fill="#84c8e2"/>
<circle cx="382.19" cy="304.9" r="2.23" fill="#4b72e6"/>
<circle cx="391.2" cy="304.9" r="2.79" fill="#4b72e6"/>
<circle cx="400.22" cy="304.9" r="2.65" fill="#4b72e6"/>
<circle cx="409.24" cy="304.9" r="2.23" fill="#f0ee40"/>
<circle cx="418.25" cy="304.9" r="1.39" fill="#a8dce4"/>
<circle cx="427.27" cy="304.9" r="1.39" fill="#a8dce4"/>
<circle cx="436.28" cy="304.9" r="1.25" fill="#5cb2dc"/>
<circle cx="445.3" cy="304.9" r="1.25" fill="#5cb2dc"/>
<circle cx="454.32" cy="304.9" r="1.12" fill="#84c8e2"/>
<circle cx="463.33" cy="304.9" r="1.25" fill="#5cb2dc"/>
<circle cx="472.35" cy="304.9" r="2.09" fill="#f0ee40"/>
<circle cx="481.36" cy="304.9" r="2.09" fill="#4a90da"/>
<circle cx="490.38" cy="304.9" r="0.98" fill="#e6fa78"/>
<circle cx="499.4" cy="304.9" r="0.5" fill="#8cc48c"/>
<circle cx="508.41" cy="304.9" r="0.5" fill="#7f8cd6"/>
<circle cx="517.43" cy="304.9" r="0.5" fill="#7f8cd6"/>
<circle cx="526.44" cy="304.9" r="0.5" fill="#7f8cd6"/>
<circle cx="535.46" cy="304.9" r="0.5" fill="#7f8cd6"/>
<circle cx="544.48" cy="304.9" r="0.5" fill="#8cc48c"/>
<circle cx="553.49" cy="304.9" r="0.5" fill="#8cc48c"/>
<circle cx="111.71" cy="316.24" r="5.02" fill="#f1432b"/>
<circle cx="120.72" cy="316.24" r="5.16" fill="#f1432b"/>
<circle cx="129.74" cy="316.24" r="5.02" fill="#f1432b"/>
<circle cx="138.76" cy="316.24" r="5.02" fill="#f1432b"/>
<circle cx="147.77" cy="316.24" r="5.02" fill="#f1432b"/>
<circle cx="156.79" cy="316.24" r="5.02" fill="#f1432b"/>
<circle cx="165.8" cy="316.24" r="5.02" fill="#f1432b"/>
<circle cx="174.82" cy="316.24" r="5.02" fill="#f1432b"/>
<circle cx="183.84" cy="316.24" r="3.49" fill="#f2601f"/>
<circle cx="192.85" cy="316.24" r="3.83" fill="#f1432b"/>
<circle cx="201.87" cy="316.24" r="3.49" fill="#f1432b"/>
<circle cx="210.88" cy="316.24" r="2.93" fill="#f1432b"/>
<circle cx="219.9" cy="316.24" r="5.02" fill="#ef8326"/>
<circle cx="228.92" cy="316.24" r="5.02" fill="#f2601f"/>
<circle cx="237.93" cy="316.24" r="5.02" fill="#f1432b"/>
<circle cx="246.95" cy="316.24" r="4.04" fill="#eccf36"/>
<circle cx="255.96" cy="316.24" r="4.32" fill="#e8ad30"/>
<circle cx="264.98" cy="316.24" r="4.32" fill="#ef8326"/>
<circle cx="274" cy="316.24" r="4.18" fill="#e8ad30"/>
<circle cx="283.01" cy="316.24" r="5.02" fill="#e8ad30"/>
<circle cx="292.03" cy="316.24" r="3.49" fill="#5cb2dc"/>
<circle cx="301.04" cy="316.24" r="4.53" fill="#4a90da"/>
<circle cx="310.06" cy="316.24" r="4.32" fill="#4a90da"/>
<circle cx="319.08" cy="316.24" r="3.63" fill="#5cb2dc"/>
<circle cx="328.09" cy="316.24" r="3.35" fill="#84c8e2"/>
<circle cx="337.11" cy="316.24" r="4.32" fill="#f0ee40"/>
<circle cx="346.12" cy="316.24" r="5.02" fill="#eccf36"/>
<circle cx="355.14" cy="316.24" r="3.49" fill="#c6f2d2"/>
<circle cx="364.16" cy="316.24" r="3.14" fill="#f0ee40"/>
<circle cx="373.17" cy="316.24" r="2.79" fill="#f0ee40"/>
<circle cx="382.19" cy="316.24" r="2.09" fill="#4a90da"/>
<circle cx="391.2" cy="316.24" r="3.14" fill="#f0ee40"/>
<circle cx="400.22" cy="316.24" r="3.63" fill="#e8ad30"/>
<circle cx="409.24" cy="316.24" r="2.65" fill="#f2601f"/>
<circle cx="418.25" cy="316.24" r="2.09" fill="#e8ad30"/>
<circle cx="427.27" cy="316.24" r="1.95" fill="#ef8326"/>
<circle cx="436.28" cy="316.24" r="1.81" fill="#ef8326"/>
<circle cx="445.3" cy="316.24" r="1.81" fill="#e8ad30"/>
<circle cx="454.32" cy="316.24" r="1.53" fill="#eccf36"/>
<circle cx="463.33" cy="316.24" r="1.74" fill="#e8ad30"/>
<circle cx="472.35" cy="316.24" r="1.95" fill="#e8ad30"/>
<circle cx="481.36" cy="316.24" r="1.95" fill="#e6fa78"/>
<circle cx="490.38" cy="316.24" r="0.98" fill="#e8ad30"/>
<circle cx="499.4" cy="316.24" r="0.5" fill="#8cc48c"/>
<circle cx="508.41" cy="316.24" r="0.5" fill="#7f8cd6"/>
<circle cx="517.43" cy="316.24" r="0.5" fill="#7f8cd6"/>
<circle cx="526.44" cy="316.24" r="0.5" fill="#7f8cd6"/>
<circle cx="535.46" cy="316.24" r="0.5" fill="#7f8cd6"/>
<circle cx="544.48" cy="316.24" r="0.5" fill="#8cc48c"/>
<circle cx="553.49" cy="316.24" r="0.5" fill="#8cc48c"/>
<circle cx="111.71" cy="327.58" r="4.53" fill="#eccf36"/>
<circle cx="120.72" cy="327.58" r="5.02" fill="#eccf36"/>
<circle cx="129.74" cy="327.58" r="4.74" fill="#eccf36"/>
<circle cx="138.76" cy="327.58" r="4.88" fill="#eccf36"/>
<circle cx="147.77" cy="327.58" r="4.53" fill="#f0ee40"/>
<circle cx="156.79" cy="327.58" r="4.88" fill="#dcfcb4"/>
<circle cx="165.8" cy="327.58" r="4.32" fill="#5cb2dc"/>
<circle cx="174.82" cy="327.58" r="3.83" fill="#5cb2dc"/>
<circle cx="183.84" cy="327.58" r="1.25" fill="#5cb2dc"/>
<circle cx="192.85" cy="327.58" r="1.39" fill="#5cb2dc"/>
<circle cx="201.87" cy="327.58" r="2.65" fill="#84c8e2"/>
<circle cx="210.88" cy="327.58" r="1.53" fill="#a8dce4"/>
<circle cx="219.9" cy="327.58" r="4.74" fill="#4b72e6"/>
<circle cx="228.92" cy="327.58" r="5.02" fill="#4a90da"/>
<circle cx="237.93" cy="327.58" r="5.02" fill="#eccf36"/>
<circle cx="246.95" cy="327.58" r="4.18" fill="#f0ee40"/>
<circle cx="255.96" cy="327.58" r="3.63" fill="#84c8e2"/>
<circle cx="264.98" cy="327.58" r="3.83" fill="#5cb2dc"/>
<circle cx="274" cy="327.58" r="3.63" fill="#4a90da"/>
<circle cx="283.01" cy="327.58" r="4.74" fill="#4b72e6"/>
<circle cx="292.03" cy="327.58" r="4.32" fill="#dcfcb4"/>
<circle cx="301.04" cy="327.58" r="4.32" fill="#3d55e0"/>
<circle cx="310.06" cy="327.58" r="3.49" fill="#3d55e0"/>
<circle cx="319.08" cy="327.58" r="2.79" fill="#4b72e6"/>
<circle cx="328.09" cy="327.58" r="2.23" fill="#3d55e0"/>
<circle cx="337.11" cy="327.58" r="2.93" fill="#4b72e6"/>
<circle cx="346.12" cy="327.58" r="4.53" fill="#4b72e6"/>
<circle cx="355.14" cy="327.58" r="2.44" fill="#4b72e6"/>
<circle cx="364.16" cy="327.58" r="1.95" fill="#4a90da"/>
<circle cx="373.17" cy="327.58" r="1.53" fill="#3d55e0"/>
<circle cx="382.19" cy="327.58" r="1.53" fill="#4b72e6"/>
<circle cx="391.2" cy="327.58" r="2.09" fill="#4b72e6"/>
<circle cx="400.22" cy="327.58" r="2.79" fill="#c6f2d2"/>
<circle cx="409.24" cy="327.58" r="0.7" fill="#3d55e0"/>
<circle cx="418.25" cy="327.58" r="0.84" fill="#5cb2dc"/>
<circle cx="427.27" cy="327.58" r="0.98" fill="#c6f2d2"/>
<circle cx="436.28" cy="327.58" r="1.53" fill="#e6fa78"/>
<circle cx="445.3" cy="327.58" r="1.53" fill="#e6fa78"/>
<circle cx="454.32" cy="327.58" r="0.7" fill="#3d55e0"/>
<circle cx="463.33" cy="327.58" r="0.7" fill="#3d55e0"/>
<circle cx="472.35" cy="327.58" r="0.84" fill="#3d55e0"/>
<circle cx="481.36" cy="327.58" r="1.25" fill="#4b72e6"/>
<circle cx="490.38" cy="327.58" r="0.5" fill="#e8ad30"/>
<circle cx="499.4" cy="327.58" r="0.53" fill="#e6fa78"/>
<circle cx="508.41" cy="327.58" r="0.5" fill="#7f8cd6"/>
<circle cx="517.43" cy="327.58" r="0.5" fill="#7f8cd6"/>
<circle cx="526.44" cy="327.58" r="0.5" fill="#7f8cd6"/>
<circle cx="535.46" cy="327.58" r="0.5" fill="#7f8cd6"/>
<circle cx="544.48" cy="327.58" r="1.12" fill="#f1432b"/>
<circle cx="553.49" cy="327.58" r="0.5" fill="#8cc48c"/>
<circle cx="111.71" cy="338.92" r="4.04" fill="#e8ad30"/>
<circle cx="120.72" cy="338.92" r="5.02" fill="#f0ee40"/>
<circle cx="129.74" cy="338.92" r="4.32" fill="#5cb2dc"/>
<circle cx="138.76" cy="338.92" r="4.74" fill="#4b72e6"/>
<circle cx="147.77" cy="338.92" r="4.04" fill="#4a90da"/>
<circle cx="156.79" cy="338.92" r="4.32" fill="#4a90da"/>
<circle cx="165.8" cy="338.92" r="2.79" fill="#3d55e0"/>
<circle cx="174.82" cy="338.92" r="2.93" fill="#3d55e0"/>
<circle cx="183.84" cy="338.92" r="3.14" fill="#e8ad30"/>
<circle cx="192.85" cy="338.92" r="2.23" fill="#a8dce4"/>
<circle cx="201.87" cy="338.92" r="2.79" fill="#84c8e2"/>
<circle cx="210.88" cy="338.92" r="1.05" fill="#3d55e0"/>
<circle cx="219.9" cy="338.92" r="4.32" fill="#3d55e0"/>
<circle cx="228.92" cy="338.92" r="4.32" fill="#3d55e0"/>
<circle cx="237.93" cy="338.92" r="4.32" fill="#3d55e0"/>
<circle cx="246.95" cy="338.92" r="2.65" fill="#4b72e6"/>
<circle cx="255.96" cy="338.92" r="1.74" fill="#3d55e0"/>
<circle cx="264.98" cy="338.92" r="2.09" fill="#3d55e0"/>
<circle cx="274" cy="338.92" r="2.09" fill="#3d55e0"/>
<circle cx="283.01" cy="338.92" r="4.74" fill="#4b72e6"/>
<circle cx="292.03" cy="338.92" r="3.35" fill="#4b72e6"/>
<circle cx="301.04" cy="338.92" r="2.09" fill="#3d55e0"/>
<circle cx="310.06" cy="338.92" r="2.23" fill="#3d55e0"/>
<circle cx="319.08" cy="338.92" r="0.98" fill="#3d55e0"/>
<circle cx="328.09" cy="338.92" r="0.84" fill="#3d55e0"/>
<circle cx="337.11" cy="338.92" r="1.05" fill="#3d55e0"/>
<circle cx="346.12" cy="338.92" r="2.09" fill="#3d55e0"/>
<circle cx="355.14" cy="338.92" r="0.53" fill="#3d55e0"/>
<circle cx="364.16" cy="338.92" r="1.05" fill="#3d55e0"/>
<circle cx="373.17" cy="338.92" r="0.84" fill="#3d55e0"/>
<circle cx="382.19" cy="338.92" r="0.98" fill="#3d55e0"/>
<circle cx="391.2" cy="338.92" r="1.95" fill="#4b72e6"/>
<circle cx="400.22" cy="338.92" r="1.12" fill="#3d55e0"/>
<circle cx="409.24" cy="338.92" r="1.12" fill="#a8dce4"/>
<circle cx="418.25" cy="338.92" r="1.12" fill="#c6f2d2"/>
<circle cx="427.27" cy="338.92" r="0.84" fill="#a8dce4"/>
<circle cx="436.28" cy="338.92" r="0.53" fill="#3d55e0"/>
<circle cx="445.3" cy="338.92" r="0.7" fill="#3d55e0"/>
<circle cx="454.32" cy="338.92" r="0.84" fill="#5cb2dc"/>
<circle cx="463.33" cy="338.92" r="0.98" fill="#3d55e0"/>
<circle cx="472.35" cy="338.92" r="0.7" fill="#3d55e0"/>
<circle cx="481.36" cy="338.92" r="0.98" fill="#3d55e0"/>
<circle cx="490.38" cy="338.92" r="0.5" fill="#8cc48c"/>
<circle cx="499.4" cy="338.92" r="0.5" fill="#8cc48c"/>
<circle cx="508.41" cy="338.92" r="0.5" fill="#7f8cd6"/>
<circle cx="517.43" cy="338.92" r="0.5" fill="#7f8cd6"/>
<circle cx="526.44" cy="338.92" r="0.5" fill="#7f8cd6"/>
<circle cx="535.46" cy="338.92" r="0.5" fill="#7f8cd6"/>
<circle cx="544.48" cy="338.92" r="1.95" fill="#f1432b"/>
<circle cx="553.49" cy="338.92" r="0.5" fill="#8cc48c"/>
<circle cx="111.71" cy="350.26" r="2.79" fill="#4b72e6"/>
<circle cx="120.72" cy="350.26" r="5.02" fill="#4b72e6"/>
<circle cx="129.74" cy="350.26" r="4.04" fill="#3d55e0"/>
<circle cx="138.76" cy="350.26" r="4.32" fill="#3d55e0"/>
<circle cx="147.77" cy="350.26" r="3.83" fill="#4b72e6"/>
<circle cx="156.79" cy="350.26" r="3.83" fill="#3d55e0"/>
<circle cx="165.8" cy="350.26" r="2.09" fill="#3d55e0"/>
<circle cx="174.82" cy="350.26" r="2.23" fill="#3d55e0"/>
<circle cx="183.84" cy="350.26" r="0.84" fill="#3d55e0"/>
<circle cx="192.85" cy="350.26" r="0.7" fill="#3d55e0"/>
<circle cx="201.87" cy="350.26" r="1.53" fill="#3d55e0"/>
<circle cx="210.88" cy="350.26" r="1.12" fill="#3d55e0"/>
<circle cx="219.9" cy="350.26" r="3.83" fill="#3d55e0"/>
<circle cx="228.92" cy="350.26" r="4.18" fill="#3d55e0"/>
<circle cx="237.93" cy="350.26" r="4.18" fill="#3d55e0"/>
<circle cx="246.95" cy="350.26" r="2.44" fill="#4b72e6"/>
<circle cx="255.96" cy="350.26" r="1.39" fill="#3d55e0"/>
<circle cx="264.98" cy="350.26" r="1.74" fill="#3d55e0"/>
<circle cx="274" cy="350.26" r="1.25" fill="#3d55e0"/>
<circle cx="283.01" cy="350.26" r="3.83" fill="#3d55e0"/>
<circle cx="292.03" cy="350.26" r="4.32" fill="#dcfcb4"/>
<circle cx="301.04" cy="350.26" r="2.44" fill="#3d55e0"/>
<circle cx="310.06" cy="350.26" r="2.23" fill="#3d55e0"/>
<circle cx="319.08" cy="350.26" r="0.98" fill="#3d55e0"/>
<circle cx="328.09" cy="350.26" r="0.84" fill="#3d55e0"/>
<circle cx="337.11" cy="350.26" r="1.12" fill="#3d55e0"/>
<circle cx="346.12" cy="350.26" r="2.09" fill="#3d55e0"/>
<circle cx="355.14" cy="350.26" r="0.98" fill="#3d55e0"/>
<circle cx="364.16" cy="350.26" r="1.05" fill="#3d55e0"/>
<circle cx="373.17" cy="350.26" r="0.7" fill="#3d55e0"/>
<circle cx="382.19" cy="350.26" r="1.53" fill="#3d55e0"/>
<circle cx="391.2" cy="350.26" r="1.53" fill="#3d55e0"/>
<circle cx="400.22" cy="350.26" r="1.12" fill="#3d55e0"/>
<circle cx="409.24" cy="350.26" r="0.5" fill="#3d55e0"/>
<circle cx="418.25" cy="350.26" r="0.5" fill="#3d55e0"/>
<circle cx="427.27" cy="350.26" r="0.84" fill="#5cb2dc"/>
<circle cx="436.28" cy="350.26" r="0.7" fill="#3d55e0"/>
<circle cx="445.3" cy="350.26" r="0.5" fill="#3d55e0"/>
<circle cx="454.32" cy="350.26" r="0.5" fill="#3d55e0"/>
<circle cx="463.33" cy="350.26" r="0.5" fill="#3d55e0"/>
<circle cx="472.35" cy="350.26" r="0.53" fill="#3d55e0"/>
<circle cx="481.36" cy="350.26" r="0.84" fill="#3d55e0"/>
<circle cx="490.38" cy="350.26" r="0.5" fill="#8cc48c"/>
<circle cx="499.4" cy="350.26" r="0.5" fill="#8cc48c"/>
<circle cx="508.41" cy="350.26" r="0.5" fill="#7f8cd6"/>
<circle cx="517.43" cy="350.26" r="0.5" fill="#7f8cd6"/>
<circle cx="526.44" cy="350.26" r="0.5" fill="#7f8cd6"/>
<circle cx="535.46" cy="350.26" r="0.5" fill="#7f8cd6"/>
<circle cx="544.48" cy="350.26" r="1.81" fill="#f1432b"/>
<circle cx="553.49" cy="350.26" r="0.5" fill="#8cc48c"/>
<circle cx="111.71" cy="361.6" r="2.93" fill="#4b72e6"/>
<circle cx="120.72" cy="361.6" r="5.02" fill="#4a90da"/>
<circle cx="129.74" cy="361.6" r="3.83" fill="#3d55e0"/>
<circle cx="138.76" cy="361.6" r="4.32" fill="#3d55e0"/>
<circle cx="147.77" cy="361.6" r="3.83" fill="#4b72e6"/>
<circle cx="156.79" cy="361.6" r="3.83" fill="#3d55e0"/>
<circle cx="165.8" cy="361.6" r="2.23" fill="#3d55e0"/>
<circle cx="174.82" cy="361.6" r="2.23" fill="#3d55e0"/>
<circle cx="183.84" cy="361.6" r="0.84" fill="#3d55e0"/>
<circle cx="192.85" cy="361.6" r="0.7" fill="#3d55e0"/>
<circle cx="201.87" cy="361.6" r="1.53" fill="#3d55e0"/>
<circle cx="210.88" cy="361.6" r="0.53" fill="#3d55e0"/>
<circle cx="219.9" cy="361.6" r="3.83" fill="#3d55e0"/>
<circle cx="228.92" cy="361.6" r="4.04" fill="#3d55e0"/>
<circle cx="237.93" cy="361.6" r="4.32" fill="#3d55e0"/>
<circle cx="246.95" cy="361.6" r="2.23" fill="#4b72e6"/>
<circle cx="255.96" cy="361.6" r="1.25" fill="#3d55e0"/>
<circle cx="264.98" cy="361.6" r="1.95" fill="#3d55e0"/>
<circle cx="274" cy="361.6" r="1.39" fill="#3d55e0"/>
<circle cx="283.01" cy="361.6" r="4.32" fill="#3d55e0"/>
<circle cx="292.03" cy="361.6" r="4.32" fill="#a8dce4"/>
<circle cx="301.04" cy="361.6" r="2.65" fill="#3d55e0"/>
<circle cx="310.06" cy="361.6" r="2.79" fill="#3d55e0"/>
<circle cx="319.08" cy="361.6" r="0.98" fill="#3d55e0"/>
<circle cx="328.09" cy="361.6" r="0.7" fill="#3d55e0"/>
<circle cx="337.11" cy="361.6" r="1.12" fill="#3d55e0"/>
<circle cx="346.12" cy="361.6" r="1.74" fill="#3d55e0"/>
<circle cx="355.14" cy="361.6" r="0.53" fill="#3d55e0"/>
<circle cx="364.16" cy="361.6" r="0.98" fill="#3d55e0"/>
<circle cx="373.17" cy="361.6" r="0.98" fill="#3d55e0"/>
<circle cx="382.19" cy="361.6" r="1.74" fill="#4b72e6"/>
<circle cx="391.2" cy="361.6" r="1.53" fill="#3d55e0"/>
<circle cx="400.22" cy="361.6" r="0.98" fill="#3d55e0"/>
<circle cx="409.24" cy="361.6" r="0.53" fill="#3d55e0"/>
<circle cx="418.25" cy="361.6" r="0.5" fill="#3d55e0"/>
<circle cx="427.27" cy="361.6" r="0.5" fill="#3d55e0"/>
<circle cx="436.28" cy="361.6" r="0.84" fill="#3d55e0"/>
<circle cx="445.3" cy="361.6" r="0.7" fill="#3d55e0"/>
<circle cx="454.32" cy="361.6" r="0.7" fill="#3d55e0"/>
<circle cx="463.33" cy="361.6" r="0.84" fill="#3d55e0"/>
<circle cx="472.35" cy="361.6" r="0.5" fill="#3d55e0"/>
<circle cx="481.36" cy="361.6" r="1.25" fill="#3d55e0"/>
<circle cx="490.38" cy="361.6" r="0.5" fill="#8cc48c"/>
<circle cx="499.4" cy="361.6" r="0.5" fill="#8cc48c"/>
<circle cx="508.41" cy="361.6" r="0.5" fill="#7f8cd6"/>
<circle cx="517.43" cy="361.6" r="0.5" fill="#7f8cd6"/>
<circle cx="526.44" cy="361.6" r="0.5" fill="#7f8cd6"/>
<circle cx="535.46" cy="361.6" r="0.5" fill="#7f8cd6"/>
<circle cx="544.48" cy="361.6" r="0.98" fill="#f2601f"/>
<circle cx="553.49" cy="361.6" r="0.5" fill="#8cc48c"/>
<circle cx="111.71" cy="372.94" r="2.93" fill="#4b72e6"/>
<circle cx="120.72" cy="372.94" r="5.02" fill="#c6f2d2"/>
<circle cx="129.74" cy="372.94" r="4.32" fill="#4a90da"/>
<circle cx="138.76" cy="372.94" r="4.53" fill="#4b72e6"/>
<circle cx="147.77" cy="372.94" r="4.18" fill="#4a90da"/>
<circle cx="156.79" cy="372.94" r="4.32" fill="#4b72e6"/>
<circle cx="165.8" cy="372.94" r="3.14" fill="#3d55e0"/>
<circle cx="174.82" cy="372.94" r="3.14" fill="#3d55e0"/>
<circle cx="183.84" cy="372.94" r="2.09" fill="#a8dce4"/>
<circle cx="192.85" cy="372.94" r="1.53" fill="#3d55e0"/>
<circle cx="201.87" cy="372.94" r="1.95" fill="#4b72e6"/>
<circle cx="210.88" cy="372.94" r="1.39" fill="#4b72e6"/>
<circle cx="219.9" cy="372.94" r="4.32" fill="#3d55e0"/>
<circle cx="228.92" cy="372.94" r="4.74" fill="#3d55e0"/>
<circle cx="237.93" cy="372.94" r="4.32" fill="#3d55e0"/>
<circle cx="246.95" cy="372.94" r="3.14" fill="#4b72e6"/>
<circle cx="255.96" cy="372.94" r="2.09" fill="#3d55e0"/>
<circle cx="264.98" cy="372.94" r="2.23" fill="#3d55e0"/>
<circle cx="274" cy="372.94" r="2.23" fill="#3d55e0"/>
<circle cx="283.01" cy="372.94" r="4.53" fill="#3d55e0"/>
<circle cx="292.03" cy="372.94" r="3.83" fill="#4b72e6"/>
<circle cx="301.04" cy="372.94" r="3.14" fill="#3d55e0"/>
<circle cx="310.06" cy="372.94" r="2.79" fill="#3d55e0"/>
<circle cx="319.08" cy="372.94" r="2.23" fill="#3d55e0"/>
<circle cx="328.09" cy="372.94" r="1.74" fill="#3d55e0"/>
<circle cx="337.11" cy="372.94" r="2.23" fill="#3d55e0"/>
<circle cx="346.12" cy="372.94" r="3.14" fill="#3d55e0"/>
<circle cx="355.14" cy="372.94" r="1.74" fill="#3d55e0"/>
<circle cx="364.16" cy="372.94" r="1.53" fill="#3d55e0"/>
<circle cx="373.17" cy="372.94" r="1.39" fill="#3d55e0"/>
<circle cx="382.19" cy="372.94" r="1.74" fill="#3d55e0"/>
<circle cx="391.2" cy="372.94" r="1.95" fill="#3d55e0"/>
<circle cx="400.22" cy="372.94" r="1.74" fill="#3d55e0"/>
<circle cx="409.24" cy="372.94" r="0.84" fill="#3d55e0"/>
<circle cx="418.25" cy="372.94" r="0.84" fill="#3d55e0"/>
<circle cx="427.27" cy="372.94" r="0.98" fill="#84c8e2"/>
<circle cx="436.28" cy="372.94" r="0.84" fill="#3d55e0"/>
<circle cx="445.3" cy="372.94" r="0.7" fill="#3d55e0"/>
<circle cx="454.32" cy="372.94" r="0.98" fill="#3d55e0"/>
<circle cx="463.33" cy="372.94" r="0.7" fill="#3d55e0"/>
<circle cx="472.35" cy="372.94" r="0.7" fill="#3d55e0"/>
<circle cx="481.36" cy="372.94" r="0.7" fill="#3d55e0"/>
<circle cx="490.38" cy="372.94" r="0.5" fill="#8cc48c"/>
<circle cx="499.4" cy="372.94" r="0.5" fill="#8cc48c"/>
<circle cx="508.41" cy="372.94" r="0.5" fill="#7f8cd6"/>
<circle cx="517.43" cy="372.94" r="0.5" fill="#7f8cd6"/>
<circle cx="526.44" cy="372.94" r="0.5" fill="#7f8cd6"/>
<circle cx="535.46" cy="372.94" r="0.5" fill="#7f8cd6"/>
<circle cx="544.48" cy="372.94" r="1.12" fill="#e8ad30"/>
<circle cx="553.49" cy="372.94" r="0.5" fill="#8cc48c"/>
<circle cx="111.71" cy="384.28" r="2.79" fill="#4b72e6"/>
<circle cx="120.72" cy="384.28" r="5.02" fill="#4b72e6"/>
<circle cx="129.74" cy="384.28" r="4.32" fill="#4b72e6"/>
<circle cx="138.76" cy="384.28" r="4.53" fill="#3d55e0"/>
<circle cx="147.77" cy="384.28" r="3.83" fill="#4b72e6"/>
<circle cx="156.79" cy="384.28" r="4.32" fill="#4b72e6"/>
<circle cx="165.8" cy="384.28" r="2.79" fill="#3d55e0"/>
<circle cx="174.82" cy="384.28" r="2.79" fill="#3d55e0"/>
<circle cx="183.84" cy="384.28" r="1.25" fill="#4a90da"/>
<circle cx="192.85" cy="384.28" r="1.05" fill="#3d55e0"/>
<circle cx="201.87" cy="384.28" r="1.74" fill="#3d55e0"/>
<circle cx="210.88" cy="384.28" r="1.39" fill="#3d55e0"/>
<circle cx="219.9" cy="384.28" r="4.18" fill="#3d55e0"/>
<circle cx="228.92" cy="384.28" r="4.53" fill="#3d55e0"/>
<circle cx="237.93" cy="384.28" r="4.53" fill="#3d55e0"/>
<circle cx="246.95" cy="384.28" r="2.44" fill="#3d55e0"/>
<circle cx="255.96" cy="384.28" r="2.09" fill="#3d55e0"/>
<circle cx="264.98" cy="384.28" r="2.09" fill="#3d55e0"/>
<circle cx="274" cy="384.28" r="1.95" fill="#3d55e0"/>
<circle cx="283.01" cy="384.28" r="3.14" fill="#3d55e0"/>
<circle cx="292.03" cy="384.28" r="1.53" fill="#3d55e0"/>
<circle cx="301.04" cy="384.28" r="4.32" fill="#3d55e0"/>
<circle cx="310.06" cy="384.28" r="2.09" fill="#3d55e0"/>
<circle cx="319.08" cy="384.28" r="1.12" fill="#3d55e0"/>
<circle cx="328.09" cy="384.28" r="1.12" fill="#3d55e0"/>
<circle cx="337.11" cy="384.28" r="1.53" fill="#3d55e0"/>
<circle cx="346.12" cy="384.28" r="2.44" fill="#3d55e0"/>
<circle cx="355.14" cy="384.28" r="1.25" fill="#3d55e0"/>
<circle cx="364.16" cy="384.28" r="0.84" fill="#3d55e0"/>
<circle cx="373.17" cy="384.28" r="0.84" fill="#3d55e0"/>
<circle cx="382.19" cy="384.28" r="0.98" fill="#3d55e0"/>
<circle cx="391.2" cy="384.28" r="1.39" fill="#3d55e0"/>
<circle cx="400.22" cy="384.28" r="1.39" fill="#3d55e0"/>
<circle cx="409.24" cy="384.28" r="0.7" fill="#3d55e0"/>
<circle cx="418.25" cy="384.28" r="0.84" fill="#5cb2dc"/>
<circle cx="427.27" cy="384.28" r="0.84" fill="#5cb2dc"/>
<circle cx="436.28" cy="384.28" r="0.84" fill="#3d55e0"/>
<circle cx="445.3" cy="384.28" r="0.7" fill="#3d55e0"/>
<circle cx="454.32" cy="384.28" r="0.84" fill="#3d55e0"/>
<circle cx="463.33" cy="384.28" r="0.53" fill="#3d55e0"/>
<circle cx="472.35" cy="384.28" r="0.53" fill="#3d55e0"/>
<circle cx="481.36" cy="384.28" r="1.12" fill="#3d55e0"/>
<circle cx="490.38" cy="384.28" r="0.5" fill="#8cc48c"/>
<circle cx="499.4" cy="384.28" r="0.5" fill="#8cc48c"/>
<circle cx="508.41" cy="384.28" r="0.5" fill="#7f8cd6"/>
<circle cx="517.43" cy="384.28" r="0.5" fill="#7f8cd6"/>
<circle cx="526.44" cy="384.28" r="0.5" fill="#7f8cd6"/>
<circle cx="535.46" cy="384.28" r="0.5" fill="#7f8cd6"/>
<circle cx="544.48" cy="384.28" r="0.5" fill="#8cc48c"/>
<circle cx="553.49" cy="384.28" r="3.14" fill="#f1432b"/>
<rect x="107.2" y="241.4" width="450.8" height="149.2" fill="none" stroke="#333" stroke-width="0.7"/>
<line x1="104.8" y1="248.2" x2="107.2" y2="248.2" stroke="#333" stroke-width="0.6"/>
<text x="103.5" y="250.4" font-size="5.86" text-anchor="end" class="s" textLength="21.95" lengthAdjust="spacingAndGlyphs">Hep_IZ1</text>
<line x1="104.8" y1="259.54" x2="107.2" y2="259.54" stroke="#333" stroke-width="0.6"/>
<text x="103.5" y="261.74" font-size="5.86" text-anchor="end" class="s" textLength="24.1" lengthAdjust="spacingAndGlyphs">Hep_CV1</text>
<line x1="104.8" y1="270.88" x2="107.2" y2="270.88" stroke="#333" stroke-width="0.6"/>
<text x="103.5" y="273.08" font-size="5.86" text-anchor="end" class="s" textLength="23.16" lengthAdjust="spacingAndGlyphs">Hep_PP1</text>
<line x1="104.8" y1="282.22" x2="107.2" y2="282.22" stroke="#333" stroke-width="0.6"/>
<text x="103.5" y="284.42" font-size="5.86" text-anchor="end" class="s" textLength="56.46" lengthAdjust="spacingAndGlyphs">Chol_CV hepatocytes</text>
<line x1="104.8" y1="293.56" x2="107.2" y2="293.56" stroke="#333" stroke-width="0.6"/>
<text x="103.5" y="295.76" font-size="5.86" text-anchor="end" class="s" textLength="45.73" lengthAdjust="spacingAndGlyphs">Hep_Unidentified</text>
<line x1="104.8" y1="304.9" x2="107.2" y2="304.9" stroke="#333" stroke-width="0.6"/>
<text x="103.5" y="307.1" font-size="5.86" text-anchor="end" class="s" textLength="21.95" lengthAdjust="spacingAndGlyphs">Hep_IZ2</text>
<line x1="104.8" y1="316.24" x2="107.2" y2="316.24" stroke="#333" stroke-width="0.6"/>
<text x="103.5" y="318.44" font-size="5.86" text-anchor="end" class="s" textLength="23.16" lengthAdjust="spacingAndGlyphs">Hep_PP2</text>
<line x1="104.8" y1="327.58" x2="107.2" y2="327.58" stroke="#333" stroke-width="0.6"/>
<text x="103.5" y="329.78" font-size="5.86" text-anchor="end" class="s" textLength="81.96" lengthAdjust="spacingAndGlyphs">Chol_hepatocyte progenitors 2</text>
<line x1="104.8" y1="338.92" x2="107.2" y2="338.92" stroke="#333" stroke-width="0.6"/>
<text x="103.5" y="341.12" font-size="5.86" text-anchor="end" class="s" textLength="55.35" lengthAdjust="spacingAndGlyphs">Chol_Cholangiocytes</text>
<line x1="104.8" y1="350.26" x2="107.2" y2="350.26" stroke="#333" stroke-width="0.6"/>
<text x="103.5" y="352.46" font-size="5.86" text-anchor="end" class="s" textLength="69.11" lengthAdjust="spacingAndGlyphs">Chol_bipotent progenitors</text>
<line x1="104.8" y1="361.6" x2="107.2" y2="361.6" stroke="#333" stroke-width="0.6"/>
<text x="103.5" y="363.8" font-size="5.86" text-anchor="end" class="s" textLength="75.16" lengthAdjust="spacingAndGlyphs">Chol_BCL2+ Cholangiocytes</text>
<line x1="104.8" y1="372.94" x2="107.2" y2="372.94" stroke="#333" stroke-width="0.6"/>
<text x="103.5" y="375.14" font-size="5.86" text-anchor="end" class="s" textLength="81.96" lengthAdjust="spacingAndGlyphs">Chol_hepatocyte progenitors 1</text>
<line x1="104.8" y1="384.28" x2="107.2" y2="384.28" stroke="#333" stroke-width="0.6"/>
<text x="103.5" y="386.48" font-size="5.86" text-anchor="end" class="s" textLength="20.35" lengthAdjust="spacingAndGlyphs">Stellate</text>
<line x1="111.71" y1="390.6" x2="111.71" y2="393.0" stroke="#333" stroke-width="0.6"/>
<text transform="translate(113.61,394.6) rotate(-90)" font-size="5.62" text-anchor="end" class="s" textLength="14.75" lengthAdjust="spacingAndGlyphs">AMBP</text>
<line x1="120.72" y1="390.6" x2="120.72" y2="393.0" stroke="#333" stroke-width="0.6"/>
<text transform="translate(122.62,394.6) rotate(-90)" font-size="5.62" text-anchor="end" class="s" textLength="10.02" lengthAdjust="spacingAndGlyphs">ALB</text>
<line x1="129.74" y1="390.6" x2="129.74" y2="393.0" stroke="#333" stroke-width="0.6"/>
<text transform="translate(131.64,394.6) rotate(-90)" font-size="5.62" text-anchor="end" class="s" textLength="17.56" lengthAdjust="spacingAndGlyphs">APOA1</text>
<line x1="138.76" y1="390.6" x2="138.76" y2="393.0" stroke="#333" stroke-width="0.6"/>
<text transform="translate(140.66,394.6) rotate(-90)" font-size="5.62" text-anchor="end" class="s" textLength="7.05" lengthAdjust="spacingAndGlyphs">HP</text>
<line x1="147.77" y1="390.6" x2="147.77" y2="393.0" stroke="#333" stroke-width="0.6"/>
<text transform="translate(149.67,394.6) rotate(-90)" font-size="5.62" text-anchor="end" class="s" textLength="13.97" lengthAdjust="spacingAndGlyphs">SAA1</text>
<line x1="156.79" y1="390.6" x2="156.79" y2="393.0" stroke="#333" stroke-width="0.6"/>
<text transform="translate(158.69,394.6) rotate(-90)" font-size="5.62" text-anchor="end" class="s" textLength="17.73" lengthAdjust="spacingAndGlyphs">APOC3</text>
<line x1="165.8" y1="390.6" x2="165.8" y2="393.0" stroke="#333" stroke-width="0.6"/>
<text transform="translate(167.7,394.6) rotate(-90)" font-size="5.62" text-anchor="end" class="s" textLength="10.61" lengthAdjust="spacingAndGlyphs">HPX</text>
<line x1="174.82" y1="390.6" x2="174.82" y2="393.0" stroke="#333" stroke-width="0.6"/>
<text transform="translate(176.72,394.6) rotate(-90)" font-size="5.62" text-anchor="end" class="s" textLength="14.7" lengthAdjust="spacingAndGlyphs">APOH</text>
<line x1="183.84" y1="390.6" x2="183.84" y2="393.0" stroke="#333" stroke-width="0.6"/>
<text transform="translate(185.74,394.6) rotate(-90)" font-size="5.62" text-anchor="end" class="s" textLength="10.62" lengthAdjust="spacingAndGlyphs">VTN</text>
<line x1="192.85" y1="390.6" x2="192.85" y2="393.0" stroke="#333" stroke-width="0.6"/>
<text transform="translate(194.75,394.6) rotate(-90)" font-size="5.62" text-anchor="end" class="s" textLength="15.5" lengthAdjust="spacingAndGlyphs">ORM2</text>
<line x1="201.87" y1="390.6" x2="201.87" y2="393.0" stroke="#333" stroke-width="0.6"/>
<text transform="translate(203.77,394.6) rotate(-90)" font-size="5.62" text-anchor="end" class="s" textLength="13.62" lengthAdjust="spacingAndGlyphs">APCS</text>
<line x1="210.88" y1="390.6" x2="210.88" y2="393.0" stroke="#333" stroke-width="0.6"/>
<text transform="translate(212.78,394.6) rotate(-90)" font-size="5.62" text-anchor="end" class="s" textLength="17.56" lengthAdjust="spacingAndGlyphs">APOA5</text>
<line x1="219.9" y1="390.6" x2="219.9" y2="393.0" stroke="#333" stroke-width="0.6"/>
<text transform="translate(221.8,394.6) rotate(-90)" font-size="5.62" text-anchor="end" class="s" textLength="11.05" lengthAdjust="spacingAndGlyphs">FGG</text>
<line x1="228.92" y1="390.6" x2="228.92" y2="393.0" stroke="#333" stroke-width="0.6"/>
<text transform="translate(230.82,394.6) rotate(-90)" font-size="5.62" text-anchor="end" class="s" textLength="10.59" lengthAdjust="spacingAndGlyphs">FGB</text>
<line x1="237.93" y1="390.6" x2="237.93" y2="393.0" stroke="#333" stroke-width="0.6"/>
<text transform="translate(239.83,394.6) rotate(-90)" font-size="5.62" text-anchor="end" class="s" textLength="10.58" lengthAdjust="spacingAndGlyphs">FGA</text>
<line x1="246.95" y1="390.6" x2="246.95" y2="393.0" stroke="#333" stroke-width="0.6"/>
<text transform="translate(248.85,394.6) rotate(-90)" font-size="5.62" text-anchor="end" class="s" textLength="10.38" lengthAdjust="spacingAndGlyphs">CRP</text>
<line x1="255.96" y1="390.6" x2="255.96" y2="393.0" stroke="#333" stroke-width="0.6"/>
<text transform="translate(257.86,394.6) rotate(-90)" font-size="5.62" text-anchor="end" class="s" textLength="13.46" lengthAdjust="spacingAndGlyphs">ITIH3</text>
<line x1="264.98" y1="390.6" x2="264.98" y2="393.0" stroke="#333" stroke-width="0.6"/>
<text transform="translate(266.88,394.6) rotate(-90)" font-size="5.62" text-anchor="end" class="s" textLength="14.64" lengthAdjust="spacingAndGlyphs">KNG1</text>
<line x1="274" y1="390.6" x2="274" y2="393.0" stroke="#333" stroke-width="0.6"/>
<text transform="translate(275.9,394.6) rotate(-90)" font-size="5.62" text-anchor="end" class="s" textLength="25.06" lengthAdjust="spacingAndGlyphs">SERPINF2</text>
<line x1="283.01" y1="390.6" x2="283.01" y2="393.0" stroke="#333" stroke-width="0.6"/>
<text transform="translate(284.91,394.6) rotate(-90)" font-size="5.62" text-anchor="end" class="s" textLength="6.94" lengthAdjust="spacingAndGlyphs">C3</text>
<line x1="292.03" y1="390.6" x2="292.03" y2="393.0" stroke="#333" stroke-width="0.6"/>
<text transform="translate(293.93,394.6) rotate(-90)" font-size="5.62" text-anchor="end" class="s" textLength="6.94" lengthAdjust="spacingAndGlyphs">C6</text>
<line x1="301.04" y1="390.6" x2="301.04" y2="393.0" stroke="#333" stroke-width="0.6"/>
<text transform="translate(302.94,394.6) rotate(-90)" font-size="5.62" text-anchor="end" class="s" textLength="10.53" lengthAdjust="spacingAndGlyphs">CFH</text>
<line x1="310.06" y1="390.6" x2="310.06" y2="393.0" stroke="#333" stroke-width="0.6"/>
<text transform="translate(311.96,394.6) rotate(-90)" font-size="5.62" text-anchor="end" class="s" textLength="6.94" lengthAdjust="spacingAndGlyphs">C5</text>
<line x1="319.08" y1="390.6" x2="319.08" y2="393.0" stroke="#333" stroke-width="0.6"/>
<text transform="translate(320.98,394.6) rotate(-90)" font-size="5.62" text-anchor="end" class="s" textLength="10.5" lengthAdjust="spacingAndGlyphs">C8A</text>
<line x1="328.09" y1="390.6" x2="328.09" y2="393.0" stroke="#333" stroke-width="0.6"/>
<text transform="translate(329.99,394.6) rotate(-90)" font-size="5.62" text-anchor="end" class="s" textLength="11.03" lengthAdjust="spacingAndGlyphs">AFM</text>
<line x1="337.11" y1="390.6" x2="337.11" y2="393.0" stroke="#333" stroke-width="0.6"/>
<text transform="translate(339.01,394.6) rotate(-90)" font-size="5.62" text-anchor="end" class="s" textLength="16.87" lengthAdjust="spacingAndGlyphs">C4BPA</text>
<line x1="346.12" y1="390.6" x2="346.12" y2="393.0" stroke="#333" stroke-width="0.6"/>
<text transform="translate(348.02,394.6) rotate(-90)" font-size="5.62" text-anchor="end" class="s" textLength="6.94" lengthAdjust="spacingAndGlyphs">C9</text>
<line x1="355.14" y1="390.6" x2="355.14" y2="393.0" stroke="#333" stroke-width="0.6"/>
<text transform="translate(357.04,394.6) rotate(-90)" font-size="5.62" text-anchor="end" class="s" textLength="9.6" lengthAdjust="spacingAndGlyphs">LBP</text>
<line x1="364.16" y1="390.6" x2="364.16" y2="393.0" stroke="#333" stroke-width="0.6"/>
<text transform="translate(366.06,394.6) rotate(-90)" font-size="5.62" text-anchor="end" class="s" textLength="8.16" lengthAdjust="spacingAndGlyphs">CFI</text>
<line x1="373.17" y1="390.6" x2="373.17" y2="393.0" stroke="#333" stroke-width="0.6"/>
<text transform="translate(375.07,394.6) rotate(-90)" font-size="5.62" text-anchor="end" class="s" textLength="14.43" lengthAdjust="spacingAndGlyphs">PON1</text>
<line x1="382.19" y1="390.6" x2="382.19" y2="393.0" stroke="#333" stroke-width="0.6"/>
<text transform="translate(384.09,394.6) rotate(-90)" font-size="5.62" text-anchor="end" class="s" textLength="9.61" lengthAdjust="spacingAndGlyphs">F11</text>
<line x1="391.2" y1="390.6" x2="391.2" y2="393.0" stroke="#333" stroke-width="0.6"/>
<text transform="translate(393.1,394.6) rotate(-90)" font-size="5.62" text-anchor="end" class="s" textLength="14.47" lengthAdjust="spacingAndGlyphs">PROC</text>
<line x1="400.22" y1="390.6" x2="400.22" y2="393.0" stroke="#333" stroke-width="0.6"/>
<text transform="translate(402.12,394.6) rotate(-90)" font-size="5.62" text-anchor="end" class="s" textLength="6.3" lengthAdjust="spacingAndGlyphs">F9</text>
<line x1="409.24" y1="390.6" x2="409.24" y2="393.0" stroke="#333" stroke-width="0.6"/>
<text transform="translate(411.14,394.6) rotate(-90)" font-size="5.62" text-anchor="end" class="s" textLength="15.27" lengthAdjust="spacingAndGlyphs">APOM</text>
<line x1="418.25" y1="390.6" x2="418.25" y2="393.0" stroke="#333" stroke-width="0.6"/>
<text transform="translate(420.15,394.6) rotate(-90)" font-size="5.62" text-anchor="end" class="s" textLength="10.19" lengthAdjust="spacingAndGlyphs">CFB</text>
<line x1="427.27" y1="390.6" x2="427.27" y2="393.0" stroke="#333" stroke-width="0.6"/>
<text transform="translate(429.17,394.6) rotate(-90)" font-size="5.62" text-anchor="end" class="s" textLength="6.94" lengthAdjust="spacingAndGlyphs">C2</text>
<line x1="436.28" y1="390.6" x2="436.28" y2="393.0" stroke="#333" stroke-width="0.6"/>
<text transform="translate(438.18,394.6) rotate(-90)" font-size="5.62" text-anchor="end" class="s" textLength="26.07" lengthAdjust="spacingAndGlyphs">SERPIND1</text>
<line x1="445.3" y1="390.6" x2="445.3" y2="393.0" stroke="#333" stroke-width="0.6"/>
<text transform="translate(447.2,394.6) rotate(-90)" font-size="5.62" text-anchor="end" class="s" textLength="28.93" lengthAdjust="spacingAndGlyphs">SERPINA10</text>
<line x1="454.32" y1="390.6" x2="454.32" y2="393.0" stroke="#333" stroke-width="0.6"/>
<text transform="translate(456.22,394.6) rotate(-90)" font-size="5.62" text-anchor="end" class="s" textLength="9.61" lengthAdjust="spacingAndGlyphs">F10</text>
<line x1="463.33" y1="390.6" x2="463.33" y2="393.0" stroke="#333" stroke-width="0.6"/>
<text transform="translate(465.23,394.6) rotate(-90)" font-size="5.62" text-anchor="end" class="s" textLength="14.09" lengthAdjust="spacingAndGlyphs">PRG4</text>
<line x1="472.35" y1="390.6" x2="472.35" y2="393.0" stroke="#333" stroke-width="0.6"/>
<text transform="translate(474.25,394.6) rotate(-90)" font-size="5.62" text-anchor="end" class="s" textLength="14.3" lengthAdjust="spacingAndGlyphs">BCHE</text>
<line x1="481.36" y1="390.6" x2="481.36" y2="393.0" stroke="#333" stroke-width="0.6"/>
<text transform="translate(483.26,394.6) rotate(-90)" font-size="5.62" text-anchor="end" class="s" textLength="14.43" lengthAdjust="spacingAndGlyphs">PON3</text>
<line x1="490.38" y1="390.6" x2="490.38" y2="393.0" stroke="#333" stroke-width="0.6"/>
<text transform="translate(492.28,394.6) rotate(-90)" font-size="5.62" text-anchor="end" class="s" textLength="17.56" lengthAdjust="spacingAndGlyphs">APOA4</text>
<line x1="499.4" y1="390.6" x2="499.4" y2="393.0" stroke="#333" stroke-width="0.6"/>
<text transform="translate(501.3,394.6) rotate(-90)" font-size="5.62" text-anchor="end" class="s" textLength="14.72" lengthAdjust="spacingAndGlyphs">SHBG</text>
<line x1="508.41" y1="390.6" x2="508.41" y2="393.0" stroke="#333" stroke-width="0.6"/>
<text transform="translate(510.31,394.6) rotate(-90)" font-size="5.62" text-anchor="end" class="s" textLength="17.73" lengthAdjust="spacingAndGlyphs">APOC2</text>
<line x1="517.43" y1="390.6" x2="517.43" y2="393.0" stroke="#333" stroke-width="0.6"/>
<text transform="translate(519.33,394.6) rotate(-90)" font-size="5.62" text-anchor="end" class="s" textLength="24.16" lengthAdjust="spacingAndGlyphs">COLEC10</text>
<line x1="526.44" y1="390.6" x2="526.44" y2="393.0" stroke="#333" stroke-width="0.6"/>
<text transform="translate(528.34,394.6) rotate(-90)" font-size="5.62" text-anchor="end" class="s" textLength="17.73" lengthAdjust="spacingAndGlyphs">APOC4</text>
<line x1="535.46" y1="390.6" x2="535.46" y2="393.0" stroke="#333" stroke-width="0.6"/>
<text transform="translate(537.36,394.6) rotate(-90)" font-size="5.62" text-anchor="end" class="s" textLength="10.97" lengthAdjust="spacingAndGlyphs">C8G</text>
<line x1="544.48" y1="390.6" x2="544.48" y2="393.0" stroke="#333" stroke-width="0.6"/>
<text transform="translate(546.38,394.6) rotate(-90)" font-size="5.62" text-anchor="end" class="s" textLength="12.31" lengthAdjust="spacingAndGlyphs">PIGR</text>
<line x1="553.49" y1="390.6" x2="553.49" y2="393.0" stroke="#333" stroke-width="0.6"/>
<text transform="translate(555.39,394.6) rotate(-90)" font-size="5.62" text-anchor="end" class="s" textLength="24.16" lengthAdjust="spacingAndGlyphs">COLEC11</text>
<rect x="563.8" y="238.8" width="119.2" height="151.8" rx="1.5" fill="#fff" stroke="#ddd" stroke-width="0.6"/>
<text x="588.9" y="248.6" font-size="8.06" textLength="70.57" lengthAdjust="spacingAndGlyphs">scaled_expression</text>
<circle cx="575" cy="257.1" r="1.5" fill="#3d55e0"/>
<text x="588.9" y="260.1" font-size="7.9" textLength="18.45" lengthAdjust="spacingAndGlyphs">−0.6</text>
<circle cx="575" cy="268.45" r="1.5" fill="#5cb2dc"/>
<text x="588.9" y="271.45" font-size="7.9" textLength="18.45" lengthAdjust="spacingAndGlyphs">−0.3</text>
<circle cx="575" cy="279.8" r="1.5" fill="#c6f2d2"/>
<text x="588.9" y="282.8" font-size="7.9" textLength="12.09" lengthAdjust="spacingAndGlyphs">0.0</text>
<circle cx="575" cy="291.15" r="1.5" fill="#e8ad30"/>
<text x="588.9" y="294.15" font-size="7.9" textLength="12.09" lengthAdjust="spacingAndGlyphs">0.3</text>
<circle cx="575" cy="302.5" r="1.5" fill="#f2601f"/>
<text x="588.9" y="305.5" font-size="7.9" textLength="12.09" lengthAdjust="spacingAndGlyphs">0.6</text>
<text x="588.9" y="317.1" font-size="8.06" textLength="89.8" lengthAdjust="spacingAndGlyphs">percentage_expression</text>
<circle cx="575" cy="326.2" r="0.55" fill="#555"/>
<text x="588.9" y="329.2" font-size="7.9" textLength="12.09" lengthAdjust="spacingAndGlyphs">0.0</text>
<circle cx="575" cy="337.72" r="2.25" fill="#2a2a2a"/>
<text x="588.9" y="340.72" font-size="7.9" textLength="12.09" lengthAdjust="spacingAndGlyphs">0.2</text>
<circle cx="575" cy="349.24" r="3.2" fill="#2a2a2a"/>
<text x="588.9" y="352.24" font-size="7.9" textLength="12.09" lengthAdjust="spacingAndGlyphs">0.4</text>
<circle cx="575" cy="360.76" r="4" fill="#2a2a2a"/>
<text x="588.9" y="363.76" font-size="7.9" textLength="12.09" lengthAdjust="spacingAndGlyphs">0.6</text>
<circle cx="575" cy="372.28" r="4.5" fill="#2a2a2a"/>
<text x="588.9" y="375.28" font-size="7.9" textLength="12.09" lengthAdjust="spacingAndGlyphs">0.8</text>
<circle cx="575" cy="383.8" r="5.05" fill="#2a2a2a"/>
<text x="588.9" y="386.8" font-size="7.9" textLength="12.09" lengthAdjust="spacingAndGlyphs">1.0</text>
<text x="1.1" y="471.4" font-size="21.5" font-weight="bold" class="L">c</text>
<g filter="url(#rough)">
<path d="M119.9,500.1C121.08,499.12 122.7,499.17 124.5,499.3C126.3,499.43 128.48,500.25 130.7,500.9C132.92,501.55 135.6,502.4 137.8,503.2C140,504 141.85,504.68 143.9,505.7C145.95,506.72 148.22,508.02 150.1,509.3C151.98,510.58 153.67,511.87 155.2,513.4C156.73,514.93 158.2,516.8 159.3,518.5C160.4,520.2 161.47,522.4 161.8,523.6C162.13,524.8 162.75,525.87 161.3,525.7C159.85,525.53 155.65,523.63 153.1,522.6C150.55,521.57 148.38,520.43 146,519.5C143.62,518.57 140.85,516.65 138.8,517C136.75,517.35 135.4,519.98 133.7,521.6C132,523.22 130.13,524.67 128.6,526.7C127.07,528.73 125.78,532.78 124.5,533.8C123.22,534.82 121.92,533.82 120.9,532.8C119.88,531.78 119.07,529.75 118.4,527.7C117.73,525.65 117.2,523.05 116.9,520.5C116.6,517.95 116.52,514.95 116.6,512.4C116.68,509.85 116.85,507.25 117.4,505.2C117.95,503.15 118.72,501.08 119.9,500.1Z" fill="#e2766e"/>
<path d="M124.5,533.8C125.43,531.92 127.07,528.73 128.6,526.7C130.13,524.67 132,523.3 133.7,521.6C135.4,519.9 137.1,517.02 138.8,516.5C140.5,515.98 141.85,517.57 143.9,518.5C145.95,519.43 148.88,521.25 151.1,522.1C153.32,522.95 155.33,523 157.2,523.6C159.07,524.2 161.02,524.68 162.3,525.7C163.58,526.72 164.42,528 164.9,529.7C165.38,531.4 165.28,533.85 165.2,535.9C165.12,537.95 164.88,539.97 164.4,542C163.92,544.03 163.33,546.4 162.3,548.1C161.27,549.8 159.85,551.13 158.2,552.2C156.55,553.27 154.38,553.47 152.4,554.5C150.42,555.53 148.68,557.23 146.3,558.4C143.92,559.57 140.83,560.8 138.1,561.5C135.37,562.2 132.63,562.77 129.9,562.6C127.17,562.43 123.57,561.7 121.7,560.5C119.83,559.3 119.07,557.32 118.7,555.4C118.33,553.48 119.03,551.07 119.5,549C119.97,546.93 120.92,544.83 121.5,543C122.08,541.17 122.5,539.53 123,538C123.5,536.47 123.57,535.68 124.5,533.8Z" fill="#5db24c"/>
<path d="M64.1,550.4C63.03,550.9 63.6,553.78 63.6,556C63.6,558.22 63.77,560.88 64.1,563.7C64.43,566.52 64.92,570.52 65.6,572.9C66.28,575.28 66.92,577.07 68.2,578C69.48,578.93 71.27,578.83 73.3,578.5C75.33,578.17 78.02,576.93 80.4,576C82.78,575.07 85.38,573.58 87.6,572.9C89.82,572.22 91.83,572.23 93.7,571.9C95.57,571.57 97.1,571.42 98.8,570.9C100.5,570.38 102.2,569.83 103.9,568.8C105.6,567.77 107.63,566.23 109,564.7C110.37,563.17 111.75,561.13 112.1,559.6C112.45,558.07 112.12,556.52 111.1,555.5C110.08,554.48 107.7,554.08 106,553.5C104.3,552.92 102.43,552.52 100.9,552C99.37,551.48 98.62,550.4 96.8,550.4C94.98,550.4 92.8,551.07 90,552C87.2,552.93 83.33,555.83 80,556C76.67,556.17 72.65,553.93 70,553C67.35,552.07 65.17,549.9 64.1,550.4Z" fill="#d274c6"/>
<path d="M65.6,547.4C66.28,546.03 67.58,544.42 69.2,543.3C70.82,542.18 73.08,541.22 75.3,540.7C77.52,540.18 80.28,539.93 82.5,540.2C84.72,540.47 86.9,541.45 88.6,542.3C90.3,543.15 91.33,544.28 92.7,545.3C94.07,546.32 95.95,547.2 96.8,548.4C97.65,549.6 98.32,551.32 97.8,552.5C97.28,553.68 95.23,554.48 93.7,555.5C92.17,556.52 90.3,557.73 88.6,558.6C86.9,559.47 85.2,560.35 83.5,560.7C81.8,561.05 80.27,561.05 78.4,560.7C76.53,560.35 74.17,559.47 72.3,558.6C70.43,557.73 68.4,556.68 67.2,555.5C66,554.32 65.37,552.85 65.1,551.5C64.83,550.15 64.92,548.77 65.6,547.4Z" fill="#b7a634"/>
<path d="M89.6,543.3C89.93,542.27 91.82,541.63 93.7,541.2C95.58,540.77 98.52,540.78 100.9,540.7C103.28,540.62 105.62,540.78 108,540.7C110.38,540.62 113.32,539.77 115.2,540.2C117.08,540.63 118.62,542.1 119.3,543.3C119.98,544.5 120.33,546.38 119.3,547.4C118.27,548.42 114.98,548.72 113.1,549.4C111.22,550.08 109.7,551.33 108,551.5C106.3,551.67 104.6,550.83 102.9,550.4C101.2,549.97 99.67,549.4 97.8,548.9C95.93,548.4 93.07,548.33 91.7,547.4C90.33,546.47 89.27,544.33 89.6,543.3Z" fill="#8f9bd9"/>
<path d="M105.4,563.6C107.18,562.42 110.88,562.95 113.6,562.6C116.32,562.25 118.63,561.33 121.7,561.5C124.77,561.67 129.43,562.23 132,563.6C134.57,564.97 136.08,567.32 137.1,569.7C138.12,572.08 138.27,575.17 138.1,577.9C137.93,580.63 137.47,584.07 136.1,586.1C134.73,588.13 132.3,589.25 129.9,590.1C127.5,590.95 124.42,591.53 121.7,591.2C118.98,590.87 116.32,589.3 113.6,588.1C110.88,586.9 107.28,585.7 105.4,584C103.52,582.3 102.72,580.28 102.3,577.9C101.88,575.52 102.38,572.08 102.9,569.7C103.42,567.32 103.62,564.78 105.4,563.6Z" fill="#70cbc9"/>
<ellipse cx="122.3" cy="500.6" rx="2.8" ry="1.4" fill="#62cfd6"/>
<ellipse cx="155.2" cy="551.6" rx="1.8" ry="1.2" fill="#62cfd6"/>
</g>
<rect x="60" y="496" width="110" height="100" filter="url(#spkw2)"/>
<path d="M147.1 519.9h.01M124.3 498.5h.01M144.0 518.8h.01M156.2 513.5h.01M132.1 500.3h.01M129.7 500.7h.01M162.2 522.0h.01M127.7 499.6h.01M161.6 519.0h.01M159.0 524.8h.01M114.8 518.2h.01M151.8 509.2h.01M157.9 515.2h.01M134.6 500.8h.01M121.5 533.8h.01M152.0 522.0h.01M145.7 519.4h.01M159.9 519.0h.01M120.2 534.2h.01M156.1 523.7h.01M118.5 531.9h.01M150.4 508.7h.01M136.1 501.4h.01M151.2 521.7h.01M121.8 533.9h.01M137.5 502.1h.01M130.6 499.5h.01M117.6 501.2h.01M127.0 529.3h.01M146.7 519.7h.01M154.2 511.5h.01M158.3 517.3h.01M162.6 520.9h.01M123.7 534.5h.01M118.1 525.7h.01M129.1 526.3h.01M127.7 527.9h.01M133.9 521.4h.01M152.3 509.3h.01M121.3 498.7h.01M161.6 524.2h.01M116.7 525.6h.01M149.1 507.6h.01M115.5 507.0h.01M123.9 534.7h.01" stroke="#e2766e" stroke-width="1.1" stroke-linecap="round" fill="none"/>
<path d="M123.5 534.4h.01M156.6 553.8h.01M157.6 552.2h.01M159.3 524.6h.01M120.1 548.5h.01M148.4 518.1h.01M117.5 549.7h.01M118.9 547.2h.01M160.7 551.1h.01M143.3 515.6h.01M142.4 560.4h.01M144.7 518.3h.01M166.6 532.2h.01M128.5 564.7h.01M126.0 563.2h.01M127.3 528.2h.01M121.1 538.6h.01M167.3 532.2h.01M160.1 551.9h.01M127.1 562.1h.01M162.9 524.1h.01M163.7 525.9h.01M127.2 525.4h.01M135.5 563.4h.01M162.6 551.1h.01M158.9 552.4h.01M163.4 525.6h.01M165.4 543.5h.01M120.2 544.1h.01M120.5 541.4h.01M122.5 537.4h.01M159.7 524.6h.01M120.0 541.5h.01M156.8 554.5h.01M137.4 517.9h.01M144.2 517.3h.01M139.7 560.9h.01M119.9 543.4h.01M162.8 549.2h.01M122.2 532.9h.01M119.8 542.7h.01M147.6 517.9h.01M157.5 523.5h.01M127.2 563.2h.01M167.1 532.5h.01" stroke="#5db24c" stroke-width="1.1" stroke-linecap="round" fill="none"/>
<path d="M63.5 563.0h.01M104.3 551.4h.01M95.1 549.1h.01M95.9 550.6h.01M97.2 549.7h.01M76.6 578.6h.01M68.3 578.7h.01M66.6 576.0h.01M93.7 550.4h.01M68.2 577.2h.01M81.7 576.9h.01M93.5 551.5h.01M63.4 568.1h.01M92.7 551.3h.01M96.8 572.2h.01M99.0 551.0h.01M91.6 549.5h.01M100.3 572.3h.01M86.5 573.3h.01M66.2 575.1h.01M90.3 572.6h.01M104.9 570.1h.01M72.0 579.6h.01M111.7 564.1h.01M107.0 552.0h.01M111.2 556.0h.01M88.7 573.6h.01M94.5 550.4h.01M111.7 563.1h.01M63.1 551.9h.01M62.9 552.1h.01M101.1 569.7h.01M93.4 571.8h.01M96.7 573.3h.01M75.3 577.7h.01M108.2 553.1h.01M96.6 572.3h.01M93.7 549.8h.01M62.6 566.6h.01M76.5 577.2h.01M61.9 553.2h.01M64.8 569.3h.01M98.8 571.6h.01M109.8 564.8h.01M96.6 571.0h.01" stroke="#d274c6" stroke-width="1.1" stroke-linecap="round" fill="none"/>
<path d="M77.0 560.1h.01M77.2 540.5h.01M64.8 550.2h.01M70.5 558.5h.01M82.7 561.3h.01M69.5 543.5h.01M67.2 543.9h.01M85.7 541.0h.01M99.4 553.1h.01M98.6 551.1h.01M64.2 549.8h.01M77.0 560.4h.01M88.6 540.6h.01M83.2 563.2h.01M69.0 544.2h.01M79.7 561.0h.01M75.0 539.3h.01M99.2 552.1h.01M92.4 543.2h.01M67.3 545.5h.01M98.4 552.6h.01M97.9 548.1h.01M83.0 538.1h.01M84.5 541.4h.01M97.2 548.7h.01M82.6 561.8h.01M64.0 546.5h.01M78.3 540.9h.01M65.3 545.7h.01M72.0 540.9h.01M69.7 559.5h.01M67.2 556.1h.01M96.7 547.3h.01M92.8 543.7h.01M67.1 543.2h.01M91.9 558.5h.01M67.7 558.2h.01M67.9 558.0h.01M71.0 559.6h.01M66.2 556.4h.01M74.6 559.2h.01M65.5 546.7h.01M70.8 541.7h.01M66.5 544.2h.01M82.3 561.0h.01" stroke="#b7a634" stroke-width="1.1" stroke-linecap="round" fill="none"/>
<path d="M110.1 552.6h.01M103.5 550.3h.01M108.4 553.1h.01M120.6 542.3h.01M113.4 540.3h.01M89.4 544.7h.01M121.1 547.9h.01M119.7 542.3h.01M95.3 549.1h.01M121.1 544.2h.01M117.7 542.1h.01M113.1 549.7h.01M97.0 548.8h.01M112.5 550.6h.01M112.1 551.6h.01M107.8 553.7h.01M113.8 549.9h.01M102.7 551.3h.01M119.0 540.7h.01M108.4 540.8h.01M88.1 545.2h.01M105.3 539.2h.01M120.5 542.7h.01M113.4 539.1h.01M118.7 547.4h.01M110.1 551.4h.01M90.8 546.9h.01M119.8 543.7h.01M121.4 546.5h.01M100.4 540.7h.01M92.9 541.3h.01M120.0 543.5h.01M101.5 552.4h.01M119.1 542.8h.01M92.7 541.4h.01M102.5 540.4h.01M106.8 553.0h.01M115.7 550.0h.01M93.2 548.9h.01M105.3 552.6h.01M92.7 541.1h.01M97.8 550.1h.01M119.4 541.0h.01M107.7 552.3h.01M119.6 544.4h.01" stroke="#8f9bd9" stroke-width="1.1" stroke-linecap="round" fill="none"/>
<path d="M102.6 569.8h.01M103.7 582.9h.01M104.2 581.6h.01M122.7 560.6h.01M104.0 566.6h.01M136.9 586.6h.01M127.5 562.4h.01M125.1 562.4h.01M135.5 564.7h.01M138.2 568.3h.01M135.1 588.8h.01M134.4 565.6h.01M108.7 562.1h.01M138.9 579.1h.01M100.9 579.6h.01M115.7 562.0h.01M132.7 589.3h.01M140.2 576.8h.01M105.8 562.9h.01M104.4 563.6h.01M109.8 585.9h.01M113.8 590.9h.01M136.2 568.3h.01M127.8 561.2h.01M100.6 571.7h.01M130.2 591.8h.01M111.7 562.6h.01M110.4 562.6h.01M128.8 561.9h.01M131.7 588.8h.01M115.4 559.9h.01M134.1 565.9h.01M113.1 589.1h.01M127.8 590.8h.01M134.6 566.4h.01M132.7 563.2h.01M104.8 582.0h.01M122.9 592.6h.01M115.2 560.8h.01M137.3 579.7h.01M137.2 584.1h.01M136.5 588.1h.01M103.1 571.0h.01M122.0 591.6h.01M133.3 564.9h.01" stroke="#70cbc9" stroke-width="1.1" stroke-linecap="round" fill="none"/>
<text x="126.9" y="514.8" font-size="5.6" text-anchor="middle" fill="#111">CV</text>
<text x="140.1" y="542.6" font-size="5.6" text-anchor="middle" fill="#111">PP1</text>
<text x="105" y="547.5" font-size="5.6" text-anchor="middle" fill="#111">Unidentified</text>
<text x="81.9" y="553.2" font-size="5.6" text-anchor="middle" fill="#111">IZ1</text>
<text x="70.7" y="567.5" font-size="5.6" text-anchor="middle" fill="#111">IZ2</text>
<text x="121.7" y="578.8" font-size="5.6" text-anchor="middle" fill="#111">PP2</text>
<path d="M59.4,496.1V596.3H169.8" fill="none" stroke="#111" stroke-width="1.1"/>
<line x1="57.2" y1="595.76" x2="59.4" y2="595.76" stroke="#111" stroke-width="0.9"/>
<text x="55.8" y="598.36" font-size="7.3" text-anchor="end">−8</text>
<line x1="63.7" y1="596.3" x2="63.7" y2="598.5" stroke="#111" stroke-width="0.9"/>
<text x="63.7" y="605.8" font-size="7.3" text-anchor="middle">−8</text>
<line x1="57.2" y1="570.28" x2="59.4" y2="570.28" stroke="#111" stroke-width="0.9"/>
<text x="55.8" y="572.88" font-size="7.3" text-anchor="end">−4</text>
<line x1="91.9" y1="596.3" x2="91.9" y2="598.5" stroke="#111" stroke-width="0.9"/>
<text x="91.9" y="605.8" font-size="7.3" text-anchor="middle">−4</text>
<line x1="57.2" y1="544.8" x2="59.4" y2="544.8" stroke="#111" stroke-width="0.9"/>
<text x="55.8" y="547.4" font-size="7.3" text-anchor="end">0</text>
<line x1="120.1" y1="596.3" x2="120.1" y2="598.5" stroke="#111" stroke-width="0.9"/>
<text x="120.1" y="605.8" font-size="7.3" text-anchor="middle">0</text>
<line x1="57.2" y1="519.32" x2="59.4" y2="519.32" stroke="#111" stroke-width="0.9"/>
<text x="55.8" y="521.92" font-size="7.3" text-anchor="end">4</text>
<line x1="148.3" y1="596.3" x2="148.3" y2="598.5" stroke="#111" stroke-width="0.9"/>
<text x="148.3" y="605.8" font-size="7.3" text-anchor="middle">4</text>
<mask id="fm0" maskUnits="userSpaceOnUse" x="195.9" y="453.5" width="110" height="85"><g filter="url(#edge)">
<path d="M254,459.89C255.68,459.06 258.55,459.84 261.01,460.36C263.48,460.87 265.67,461.87 268.76,462.96C271.86,464.04 276.23,464.92 279.59,466.86C282.94,468.79 286.55,471.98 288.87,474.55C291.19,477.13 292.46,479.72 293.48,482.3C294.5,484.88 295.14,487.47 295.02,490.05C294.89,492.63 294.29,495.73 292.74,497.8C291.2,499.86 288.45,501.13 285.73,502.42C283.01,503.72 279.27,504.77 276.45,505.54C273.62,506.32 271.34,506.54 268.76,507.05C266.19,507.56 262.83,508.86 261.01,508.61C259.2,508.36 258.65,507.09 257.88,505.54C257.1,504 256.85,501.68 256.34,499.36C255.83,497.03 255.45,494.45 254.8,491.61C254.16,488.77 253.11,485.39 252.46,482.3C251.82,479.21 251.18,475.88 250.93,473.04C250.67,470.21 250.42,467.49 250.93,465.3C251.44,463.1 252.32,460.71 254,459.89Z" fill="#fff"/>
<path d="M202.16,499.36C203.07,497.29 205.03,495.84 206.84,494.68C208.65,493.51 210.74,492.69 213.05,492.39C215.37,492.08 217.91,492.27 220.73,492.86C223.56,493.45 227.18,495.75 230.02,495.92C232.86,496.1 234.93,494.23 237.77,493.9C240.61,493.56 244.73,493.38 247.05,493.9C249.38,494.42 250.3,495.59 251.73,497.02C253.15,498.44 255.35,500.75 255.6,502.42C255.86,504.1 254.69,505.76 253.27,507.05C251.84,508.34 249.38,508.88 247.05,510.17C244.73,511.46 241.62,513.77 239.3,514.8C236.99,515.83 235.73,515.84 233.16,516.36C230.59,516.88 226.97,517.15 223.87,517.92C220.78,518.69 217.68,519.96 214.59,520.99C211.49,522.02 207.37,524.62 205.3,524.11C203.23,523.6 202.81,520.76 202.16,517.92C201.52,515.08 201.43,510.15 201.43,507.05C201.43,503.96 201.26,501.42 202.16,499.36Z" fill="#fff"/>
<path d="M236.23,494.26C238.46,493.05 242.47,493.26 245.58,493.48C248.7,493.7 252.6,494.26 254.94,495.56C257.27,496.86 258.5,499.2 259.61,501.28C260.73,503.36 261.95,506.13 261.62,508.04C261.28,509.95 259.83,512.03 257.61,512.72C255.38,513.41 251.15,511.94 248.26,512.2C245.36,512.46 242.58,514.02 240.24,514.28C237.9,514.54 235.68,514.8 234.23,513.76C232.78,512.72 231.89,510.21 231.56,508.04C231.22,505.87 231.44,503.06 232.22,500.76C233,498.46 234.01,495.47 236.23,494.26Z" fill="#fff"/>
<path d="M237.77,517.92C238.55,515.6 240.12,514.27 242.44,513.24C244.77,512.21 248.63,511.73 251.73,511.73C254.82,511.73 258.18,512.21 261.01,513.24C263.85,514.27 267.22,516.11 268.76,517.92C270.31,519.73 270.57,522.05 270.3,524.11C270.03,526.17 268.96,528.75 267.16,530.3C265.36,531.84 262.31,532.72 259.48,533.36C256.65,534.01 253.03,534.4 250.19,534.14C247.35,533.88 244.52,532.97 242.44,531.8C240.37,530.64 238.55,529.49 237.77,527.18C236.99,524.86 236.99,520.24 237.77,517.92Z" fill="#fff"/>
</g></mask>
<g mask="url(#fm0)">
<rect x="195.9" y="453.5" width="110" height="85" fill="#e4e2e8"/>
<g filter="url(#blur)">
<ellipse cx="272.97" cy="484.12" rx="28.06" ry="29.12" fill="#9a7ed2" fill-opacity="0.9"/>
<ellipse cx="286.33" cy="490.36" rx="10.02" ry="15.6" fill="#8466c8" fill-opacity="0.6"/>
<ellipse cx="260.95" cy="467.48" rx="10.02" ry="7.8" fill="#c8b4e4" fill-opacity="0.5"/>
<ellipse cx="284.33" cy="476.84" rx="5.34" ry="5.2" fill="#ece6f0" fill-opacity="0.6"/>
<ellipse cx="216.86" cy="501.28" rx="15.36" ry="8.32" fill="#dcbfe6" fill-opacity="0.9"/>
<ellipse cx="205.5" cy="518.96" rx="7.35" ry="6.76" fill="#8a6cc8" fill-opacity="0.8"/>
<ellipse cx="244.92" cy="497.64" rx="4.01" ry="2.6" fill="#7a5cc4" fill-opacity="0.8"/>
<ellipse cx="253.93" cy="523.12" rx="20.04" ry="14.04" fill="#7050c0" fill-opacity="0.95"/>
</g>
<ellipse cx="245.25" cy="497.38" rx="3.2" ry="2.2" fill="#6a4cbc" fill-opacity="0.85" filter="url(#blur1)"/>
<ellipse cx="247.59" cy="507" rx="10.69" ry="5.2" fill="#f2f1f4" fill-opacity="0.75" filter="url(#blur)"/>
<rect x="195.9" y="453.5" width="110" height="85" filter="url(#spkw)"/>
<rect x="195.9" y="453.5" width="110" height="85" filter="url(#spkp)"/>
</g>
<path d="M195.9,456.3V538.5H301.6" fill="none" stroke="#aaa" stroke-width="1.2"/>
<text x="248.5" y="454.2" font-size="8.91" text-anchor="middle" textLength="26.17" lengthAdjust="spacingAndGlyphs">APOA1</text>
<line x1="193.7" y1="522.6" x2="195.9" y2="522.6" stroke="#222" stroke-width="0.8"/>
<line x1="220.2" y1="538.5" x2="220.2" y2="540.7" stroke="#222" stroke-width="0.8"/>
<text x="192.4" y="525.2" font-size="7.28" text-anchor="end" textLength="9.58" lengthAdjust="spacingAndGlyphs">−5</text>
<line x1="193.7" y1="496.6" x2="195.9" y2="496.6" stroke="#222" stroke-width="0.8"/>
<line x1="253.6" y1="538.5" x2="253.6" y2="540.7" stroke="#222" stroke-width="0.8"/>
<text x="192.4" y="499.2" font-size="7.28" text-anchor="end" textLength="4.14" lengthAdjust="spacingAndGlyphs">0</text>
<line x1="193.7" y1="470.6" x2="195.9" y2="470.6" stroke="#222" stroke-width="0.8"/>
<line x1="287" y1="538.5" x2="287" y2="540.7" stroke="#222" stroke-width="0.8"/>
<text x="192.4" y="473.2" font-size="7.28" text-anchor="end" textLength="4.14" lengthAdjust="spacingAndGlyphs">5</text>
<text transform="translate(180.2,496.5) rotate(-90)" font-size="7.04" text-anchor="middle" textLength="25.71" lengthAdjust="spacingAndGlyphs">UMAP_2</text>
<mask id="fm1" maskUnits="userSpaceOnUse" x="311.9" y="453.5" width="110" height="85"><g filter="url(#edge)">
<path d="M370,459.89C371.68,459.06 374.55,459.84 377.01,460.36C379.48,460.87 381.67,461.87 384.76,462.96C387.86,464.04 392.23,464.92 395.59,466.86C398.94,468.79 402.55,471.98 404.87,474.55C407.19,477.13 408.46,479.72 409.48,482.3C410.5,484.88 411.14,487.47 411.02,490.05C410.89,492.63 410.29,495.73 408.74,497.8C407.2,499.86 404.45,501.13 401.73,502.42C399.01,503.72 395.27,504.77 392.45,505.54C389.62,506.32 387.34,506.54 384.76,507.05C382.19,507.56 378.83,508.86 377.01,508.61C375.2,508.36 374.65,507.09 373.88,505.54C373.1,504 372.85,501.68 372.34,499.36C371.83,497.03 371.45,494.45 370.8,491.61C370.16,488.77 369.11,485.39 368.46,482.3C367.82,479.21 367.18,475.88 366.93,473.04C366.67,470.21 366.42,467.49 366.93,465.3C367.44,463.1 368.32,460.71 370,459.89Z" fill="#fff"/>
<path d="M318.16,499.36C319.07,497.29 321.03,495.84 322.84,494.68C324.65,493.51 326.74,492.69 329.05,492.39C331.37,492.08 333.91,492.27 336.73,492.86C339.56,493.45 343.18,495.75 346.02,495.92C348.86,496.1 350.93,494.23 353.77,493.9C356.61,493.56 360.73,493.38 363.05,493.9C365.38,494.42 366.3,495.59 367.73,497.02C369.15,498.44 371.35,500.75 371.6,502.42C371.86,504.1 370.69,505.76 369.27,507.05C367.84,508.34 365.38,508.88 363.05,510.17C360.73,511.46 357.62,513.77 355.3,514.8C352.99,515.83 351.73,515.84 349.16,516.36C346.59,516.88 342.97,517.15 339.87,517.92C336.78,518.69 333.68,519.96 330.59,520.99C327.49,522.02 323.37,524.62 321.3,524.11C319.23,523.6 318.81,520.76 318.16,517.92C317.52,515.08 317.43,510.15 317.43,507.05C317.43,503.96 317.26,501.42 318.16,499.36Z" fill="#fff"/>
<path d="M352.23,494.26C354.46,493.05 358.47,493.26 361.58,493.48C364.7,493.7 368.6,494.26 370.94,495.56C373.27,496.86 374.5,499.2 375.61,501.28C376.73,503.36 377.95,506.13 377.62,508.04C377.28,509.95 375.83,512.03 373.61,512.72C371.38,513.41 367.15,511.94 364.26,512.2C361.36,512.46 358.58,514.02 356.24,514.28C353.9,514.54 351.68,514.8 350.23,513.76C348.78,512.72 347.89,510.21 347.56,508.04C347.22,505.87 347.44,503.06 348.22,500.76C349,498.46 350.01,495.47 352.23,494.26Z" fill="#fff"/>
<path d="M353.77,517.92C354.55,515.6 356.12,514.27 358.44,513.24C360.77,512.21 364.63,511.73 367.73,511.73C370.82,511.73 374.18,512.21 377.01,513.24C379.85,514.27 383.22,516.11 384.76,517.92C386.31,519.73 386.57,522.05 386.3,524.11C386.03,526.17 384.96,528.75 383.16,530.3C381.36,531.84 378.31,532.72 375.48,533.36C372.65,534.01 369.03,534.4 366.19,534.14C363.35,533.88 360.52,532.97 358.44,531.8C356.37,530.64 354.55,529.49 353.77,527.18C352.99,524.86 352.99,520.24 353.77,517.92Z" fill="#fff"/>
</g></mask>
<g mask="url(#fm1)">
<rect x="311.9" y="453.5" width="110" height="85" fill="#e4e2e8"/>
<g filter="url(#blur)">
<ellipse cx="388.97" cy="484.12" rx="28.06" ry="29.12" fill="#d6cce6" fill-opacity="0.9"/>
<ellipse cx="378.95" cy="499.2" rx="10.02" ry="8.32" fill="#bca8dc" fill-opacity="0.5"/>
<ellipse cx="321.5" cy="518.96" rx="7.35" ry="6.76" fill="#b8a0dc" fill-opacity="0.6"/>
<ellipse cx="369.93" cy="523.12" rx="20.04" ry="14.04" fill="#b49cd8" fill-opacity="0.9"/>
<ellipse cx="359.58" cy="527.8" rx="6.68" ry="5.2" fill="#8a6cc8" fill-opacity="0.7"/>
</g>
<ellipse cx="363.59" cy="507" rx="10.69" ry="5.2" fill="#f2f1f4" fill-opacity="0.75" filter="url(#blur)"/>
<rect x="311.9" y="453.5" width="110" height="85" filter="url(#spkw)"/>
<rect x="311.9" y="453.5" width="110" height="85" filter="url(#spkp)"/>
</g>
<path d="M311.9,456.3V538.5H417.6" fill="none" stroke="#aaa" stroke-width="1.2"/>
<text x="364.5" y="454.2" font-size="8.91" text-anchor="middle" textLength="22.76" lengthAdjust="spacingAndGlyphs">APOM</text>
<line x1="309.7" y1="522.6" x2="311.9" y2="522.6" stroke="#222" stroke-width="0.8"/>
<line x1="336.2" y1="538.5" x2="336.2" y2="540.7" stroke="#222" stroke-width="0.8"/>
<line x1="309.7" y1="496.6" x2="311.9" y2="496.6" stroke="#222" stroke-width="0.8"/>
<line x1="369.6" y1="538.5" x2="369.6" y2="540.7" stroke="#222" stroke-width="0.8"/>
<line x1="309.7" y1="470.6" x2="311.9" y2="470.6" stroke="#222" stroke-width="0.8"/>
<line x1="403" y1="538.5" x2="403" y2="540.7" stroke="#222" stroke-width="0.8"/>
<mask id="fm2" maskUnits="userSpaceOnUse" x="427.7" y="453.5" width="110" height="85"><g filter="url(#edge)">
<path d="M485.8,459.89C487.48,459.06 490.35,459.84 492.81,460.36C495.28,460.87 497.47,461.87 500.56,462.96C503.66,464.04 508.03,464.92 511.39,466.86C514.74,468.79 518.35,471.98 520.67,474.55C522.99,477.13 524.26,479.72 525.28,482.3C526.3,484.88 526.94,487.47 526.82,490.05C526.69,492.63 526.09,495.73 524.54,497.8C523,499.86 520.25,501.13 517.53,502.42C514.81,503.72 511.07,504.77 508.25,505.54C505.42,506.32 503.14,506.54 500.56,507.05C497.99,507.56 494.63,508.86 492.81,508.61C491,508.36 490.45,507.09 489.68,505.54C488.9,504 488.65,501.68 488.14,499.36C487.63,497.03 487.25,494.45 486.6,491.61C485.96,488.77 484.91,485.39 484.26,482.3C483.62,479.21 482.98,475.88 482.73,473.04C482.47,470.21 482.22,467.49 482.73,465.3C483.24,463.1 484.12,460.71 485.8,459.89Z" fill="#fff"/>
<path d="M433.96,499.36C434.87,497.29 436.83,495.84 438.64,494.68C440.45,493.51 442.54,492.69 444.85,492.39C447.17,492.08 449.71,492.27 452.53,492.86C455.36,493.45 458.98,495.75 461.82,495.92C464.66,496.1 466.73,494.23 469.57,493.9C472.41,493.56 476.53,493.38 478.85,493.9C481.18,494.42 482.1,495.59 483.53,497.02C484.95,498.44 487.15,500.75 487.4,502.42C487.66,504.1 486.49,505.76 485.07,507.05C483.64,508.34 481.18,508.88 478.85,510.17C476.53,511.46 473.42,513.77 471.1,514.8C468.79,515.83 467.53,515.84 464.96,516.36C462.39,516.88 458.77,517.15 455.67,517.92C452.58,518.69 449.48,519.96 446.39,520.99C443.29,522.02 439.17,524.62 437.1,524.11C435.03,523.6 434.61,520.76 433.96,517.92C433.32,515.08 433.23,510.15 433.23,507.05C433.23,503.96 433.06,501.42 433.96,499.36Z" fill="#fff"/>
<path d="M468.03,494.26C470.26,493.05 474.27,493.26 477.38,493.48C480.5,493.7 484.4,494.26 486.74,495.56C489.07,496.86 490.3,499.2 491.41,501.28C492.53,503.36 493.75,506.13 493.42,508.04C493.08,509.95 491.63,512.03 489.41,512.72C487.18,513.41 482.95,511.94 480.06,512.2C477.16,512.46 474.38,514.02 472.04,514.28C469.7,514.54 467.48,514.8 466.03,513.76C464.58,512.72 463.69,510.21 463.36,508.04C463.02,505.87 463.24,503.06 464.02,500.76C464.8,498.46 465.81,495.47 468.03,494.26Z" fill="#fff"/>
<path d="M469.57,517.92C470.35,515.6 471.92,514.27 474.24,513.24C476.57,512.21 480.43,511.73 483.53,511.73C486.62,511.73 489.98,512.21 492.81,513.24C495.65,514.27 499.02,516.11 500.56,517.92C502.11,519.73 502.37,522.05 502.1,524.11C501.83,526.17 500.76,528.75 498.96,530.3C497.16,531.84 494.11,532.72 491.28,533.36C488.45,534.01 484.83,534.4 481.99,534.14C479.15,533.88 476.32,532.97 474.24,531.8C472.17,530.64 470.35,529.49 469.57,527.18C468.79,524.86 468.79,520.24 469.57,517.92Z" fill="#fff"/>
</g></mask>
<g mask="url(#fm2)">
<rect x="427.7" y="453.5" width="110" height="85" fill="#e4e2e8"/>
<g filter="url(#blur)">
<ellipse cx="504.77" cy="484.12" rx="28.06" ry="29.12" fill="#b8a0de" fill-opacity="0.9"/>
<ellipse cx="518.8" cy="478.4" rx="6.01" ry="5.72" fill="#ece6f0" fill-opacity="0.6"/>
<ellipse cx="448.66" cy="501.28" rx="15.36" ry="8.32" fill="#d2bce6" fill-opacity="0.9"/>
<ellipse cx="437.3" cy="518.96" rx="8.02" ry="7.28" fill="#7a5ac4" fill-opacity="0.9"/>
<ellipse cx="473.38" cy="496.6" rx="8.02" ry="2.6" fill="#d8c6e8" fill-opacity="0.7"/>
<ellipse cx="485.73" cy="523.12" rx="20.04" ry="14.04" fill="#7454c2" fill-opacity="0.95"/>
</g>
<ellipse cx="479.39" cy="507" rx="10.69" ry="5.2" fill="#f2f1f4" fill-opacity="0.75" filter="url(#blur)"/>
<rect x="427.7" y="453.5" width="110" height="85" filter="url(#spkw)"/>
<rect x="427.7" y="453.5" width="110" height="85" filter="url(#spkp)"/>
</g>
<path d="M427.7,456.3V538.5H533.4" fill="none" stroke="#aaa" stroke-width="1.2"/>
<text x="480.3" y="454.2" font-size="8.91" text-anchor="middle" textLength="20.81" lengthAdjust="spacingAndGlyphs">SAA1</text>
<line x1="425.5" y1="522.6" x2="427.7" y2="522.6" stroke="#222" stroke-width="0.8"/>
<line x1="452" y1="538.5" x2="452" y2="540.7" stroke="#222" stroke-width="0.8"/>
<line x1="425.5" y1="496.6" x2="427.7" y2="496.6" stroke="#222" stroke-width="0.8"/>
<line x1="485.4" y1="538.5" x2="485.4" y2="540.7" stroke="#222" stroke-width="0.8"/>
<line x1="425.5" y1="470.6" x2="427.7" y2="470.6" stroke="#222" stroke-width="0.8"/>
<line x1="518.8" y1="538.5" x2="518.8" y2="540.7" stroke="#222" stroke-width="0.8"/>
<mask id="fm3" maskUnits="userSpaceOnUse" x="195.9" y="553.6" width="110" height="85"><g filter="url(#edge)">
<path d="M254,559.99C255.68,559.16 258.55,559.94 261.01,560.46C263.48,560.97 265.67,561.97 268.76,563.06C271.86,564.14 276.23,565.02 279.59,566.96C282.94,568.89 286.55,572.08 288.87,574.65C291.19,577.23 292.46,579.82 293.48,582.4C294.5,584.98 295.14,587.57 295.02,590.15C294.89,592.73 294.29,595.83 292.74,597.9C291.2,599.96 288.45,601.23 285.73,602.52C283.01,603.82 279.27,604.87 276.45,605.64C273.62,606.42 271.34,606.64 268.76,607.15C266.19,607.66 262.83,608.96 261.01,608.71C259.2,608.46 258.65,607.19 257.88,605.64C257.1,604.1 256.85,601.78 256.34,599.46C255.83,597.13 255.45,594.55 254.8,591.71C254.16,588.87 253.11,585.49 252.46,582.4C251.82,579.31 251.18,575.98 250.93,573.14C250.67,570.31 250.42,567.59 250.93,565.4C251.44,563.2 252.32,560.81 254,559.99Z" fill="#fff"/>
<path d="M202.16,599.46C203.07,597.39 205.03,595.94 206.84,594.78C208.65,593.61 210.74,592.79 213.05,592.49C215.37,592.18 217.91,592.37 220.73,592.96C223.56,593.55 227.18,595.85 230.02,596.02C232.86,596.2 234.93,594.33 237.77,594C240.61,593.66 244.73,593.48 247.05,594C249.38,594.52 250.3,595.69 251.73,597.12C253.15,598.54 255.35,600.85 255.6,602.52C255.86,604.2 254.69,605.86 253.27,607.15C251.84,608.44 249.38,608.98 247.05,610.27C244.73,611.56 241.62,613.87 239.3,614.9C236.99,615.93 235.73,615.94 233.16,616.46C230.59,616.98 226.97,617.25 223.87,618.02C220.78,618.79 217.68,620.06 214.59,621.09C211.49,622.12 207.37,624.72 205.3,624.21C203.23,623.7 202.81,620.86 202.16,618.02C201.52,615.18 201.43,610.25 201.43,607.15C201.43,604.06 201.26,601.52 202.16,599.46Z" fill="#fff"/>
<path d="M236.23,594.36C238.46,593.15 242.47,593.36 245.58,593.58C248.7,593.8 252.6,594.36 254.94,595.66C257.27,596.96 258.5,599.3 259.61,601.38C260.73,603.46 261.95,606.23 261.62,608.14C261.28,610.05 259.83,612.13 257.61,612.82C255.38,613.51 251.15,612.04 248.26,612.3C245.36,612.56 242.58,614.12 240.24,614.38C237.9,614.64 235.68,614.9 234.23,613.86C232.78,612.82 231.89,610.31 231.56,608.14C231.22,605.97 231.44,603.16 232.22,600.86C233,598.56 234.01,595.57 236.23,594.36Z" fill="#fff"/>
<path d="M237.77,618.02C238.55,615.7 240.12,614.37 242.44,613.34C244.77,612.31 248.63,611.83 251.73,611.83C254.82,611.83 258.18,612.31 261.01,613.34C263.85,614.37 267.22,616.21 268.76,618.02C270.31,619.83 270.57,622.15 270.3,624.21C270.03,626.27 268.96,628.85 267.16,630.4C265.36,631.94 262.31,632.82 259.48,633.46C256.65,634.11 253.03,634.5 250.19,634.24C247.35,633.98 244.52,633.07 242.44,631.9C240.37,630.74 238.55,629.59 237.77,627.28C236.99,624.96 236.99,620.34 237.77,618.02Z" fill="#fff"/>
</g></mask>
<g mask="url(#fm3)">
<rect x="195.9" y="553.6" width="110" height="85" fill="#e4e2e8"/>
<g filter="url(#blur)">
<ellipse cx="272.97" cy="584.22" rx="28.06" ry="29.12" fill="#a48cdc" fill-opacity="0.9"/>
<ellipse cx="287" cy="578.5" rx="6.01" ry="5.72" fill="#e6e0ee" fill-opacity="0.6"/>
<ellipse cx="216.86" cy="601.9" rx="14.7" ry="8.32" fill="#a48cda" fill-opacity="0.9"/>
<ellipse cx="205.5" cy="619.06" rx="6.68" ry="6.24" fill="#9a80d4" fill-opacity="0.7"/>
<ellipse cx="241.58" cy="596.7" rx="8.02" ry="2.6" fill="#dcd4e8" fill-opacity="0.6"/>
<ellipse cx="253.93" cy="623.22" rx="20.04" ry="14.04" fill="#b29cdc" fill-opacity="0.9"/>
<ellipse cx="243.58" cy="629.46" rx="6.68" ry="4.16" fill="#dcc4e8" fill-opacity="0.5"/>
</g>
<ellipse cx="247.59" cy="607.1" rx="10.69" ry="5.2" fill="#f2f1f4" fill-opacity="0.75" filter="url(#blur)"/>
<rect x="195.9" y="553.6" width="110" height="85" filter="url(#spkw)"/>
<rect x="195.9" y="553.6" width="110" height="85" filter="url(#spkp)"/>
</g>
<path d="M195.9,556.4V638.6H301.6" fill="none" stroke="#aaa" stroke-width="1.2"/>
<text x="248.5" y="554.3" font-size="8.91" text-anchor="middle" textLength="12.16" lengthAdjust="spacingAndGlyphs">CFI</text>
<line x1="193.7" y1="622.7" x2="195.9" y2="622.7" stroke="#222" stroke-width="0.8"/>
<line x1="220.2" y1="638.6" x2="220.2" y2="640.8" stroke="#222" stroke-width="0.8"/>
<text x="192.4" y="625.3" font-size="7.28" text-anchor="end" textLength="9.58" lengthAdjust="spacingAndGlyphs">−5</text>
<text x="220.2" y="646.8" font-size="7.28" text-anchor="middle" textLength="9.58" lengthAdjust="spacingAndGlyphs">−5</text>
<line x1="193.7" y1="596.7" x2="195.9" y2="596.7" stroke="#222" stroke-width="0.8"/>
<line x1="253.6" y1="638.6" x2="253.6" y2="640.8" stroke="#222" stroke-width="0.8"/>
<text x="192.4" y="599.3" font-size="7.28" text-anchor="end" textLength="4.14" lengthAdjust="spacingAndGlyphs">0</text>
<text x="253.6" y="646.8" font-size="7.28" text-anchor="middle" textLength="4.14" lengthAdjust="spacingAndGlyphs">0</text>
<line x1="193.7" y1="570.7" x2="195.9" y2="570.7" stroke="#222" stroke-width="0.8"/>
<line x1="287" y1="638.6" x2="287" y2="640.8" stroke="#222" stroke-width="0.8"/>
<text x="192.4" y="573.3" font-size="7.28" text-anchor="end" textLength="4.14" lengthAdjust="spacingAndGlyphs">5</text>
<text x="287" y="646.8" font-size="7.28" text-anchor="middle" textLength="4.14" lengthAdjust="spacingAndGlyphs">5</text>
<text transform="translate(180.2,596.6) rotate(-90)" font-size="7.04" text-anchor="middle" textLength="25.71" lengthAdjust="spacingAndGlyphs">UMAP_2</text>
<text x="248.5" y="653.8" font-size="7.04" text-anchor="middle" textLength="25.71" lengthAdjust="spacingAndGlyphs">UMAP_1</text>
<mask id="fm4" maskUnits="userSpaceOnUse" x="311.9" y="553.6" width="110" height="85"><g filter="url(#edge)">
<path d="M370,559.99C371.68,559.16 374.55,559.94 377.01,560.46C379.48,560.97 381.67,561.97 384.76,563.06C387.86,564.14 392.23,565.02 395.59,566.96C398.94,568.89 402.55,572.08 404.87,574.65C407.19,577.23 408.46,579.82 409.48,582.4C410.5,584.98 411.14,587.57 411.02,590.15C410.89,592.73 410.29,595.83 408.74,597.9C407.2,599.96 404.45,601.23 401.73,602.52C399.01,603.82 395.27,604.87 392.45,605.64C389.62,606.42 387.34,606.64 384.76,607.15C382.19,607.66 378.83,608.96 377.01,608.71C375.2,608.46 374.65,607.19 373.88,605.64C373.1,604.1 372.85,601.78 372.34,599.46C371.83,597.13 371.45,594.55 370.8,591.71C370.16,588.87 369.11,585.49 368.46,582.4C367.82,579.31 367.18,575.98 366.93,573.14C366.67,570.31 366.42,567.59 366.93,565.4C367.44,563.2 368.32,560.81 370,559.99Z" fill="#fff"/>
<path d="M318.16,599.46C319.07,597.39 321.03,595.94 322.84,594.78C324.65,593.61 326.74,592.79 329.05,592.49C331.37,592.18 333.91,592.37 336.73,592.96C339.56,593.55 343.18,595.85 346.02,596.02C348.86,596.2 350.93,594.33 353.77,594C356.61,593.66 360.73,593.48 363.05,594C365.38,594.52 366.3,595.69 367.73,597.12C369.15,598.54 371.35,600.85 371.6,602.52C371.86,604.2 370.69,605.86 369.27,607.15C367.84,608.44 365.38,608.98 363.05,610.27C360.73,611.56 357.62,613.87 355.3,614.9C352.99,615.93 351.73,615.94 349.16,616.46C346.59,616.98 342.97,617.25 339.87,618.02C336.78,618.79 333.68,620.06 330.59,621.09C327.49,622.12 323.37,624.72 321.3,624.21C319.23,623.7 318.81,620.86 318.16,618.02C317.52,615.18 317.43,610.25 317.43,607.15C317.43,604.06 317.26,601.52 318.16,599.46Z" fill="#fff"/>
<path d="M352.23,594.36C354.46,593.15 358.47,593.36 361.58,593.58C364.7,593.8 368.6,594.36 370.94,595.66C373.27,596.96 374.5,599.3 375.61,601.38C376.73,603.46 377.95,606.23 377.62,608.14C377.28,610.05 375.83,612.13 373.61,612.82C371.38,613.51 367.15,612.04 364.26,612.3C361.36,612.56 358.58,614.12 356.24,614.38C353.9,614.64 351.68,614.9 350.23,613.86C348.78,612.82 347.89,610.31 347.56,608.14C347.22,605.97 347.44,603.16 348.22,600.86C349,598.56 350.01,595.57 352.23,594.36Z" fill="#fff"/>
<path d="M353.77,618.02C354.55,615.7 356.12,614.37 358.44,613.34C360.77,612.31 364.63,611.83 367.73,611.83C370.82,611.83 374.18,612.31 377.01,613.34C379.85,614.37 383.22,616.21 384.76,618.02C386.31,619.83 386.57,622.15 386.3,624.21C386.03,626.27 384.96,628.85 383.16,630.4C381.36,631.94 378.31,632.82 375.48,633.46C372.65,634.11 369.03,634.5 366.19,634.24C363.35,633.98 360.52,633.07 358.44,631.9C356.37,630.74 354.55,629.59 353.77,627.28C352.99,624.96 352.99,620.34 353.77,618.02Z" fill="#fff"/>
</g></mask>
<g mask="url(#fm4)">
<rect x="311.9" y="553.6" width="110" height="85" fill="#e4e2e8"/>
<g filter="url(#blur)">
<ellipse cx="388.97" cy="584.22" rx="28.06" ry="29.12" fill="#8c70d0" fill-opacity="0.9"/>
<ellipse cx="374.94" cy="568.1" rx="10.02" ry="7.8" fill="#a890d8" fill-opacity="0.4"/>
<ellipse cx="332.86" cy="601.9" rx="14.7" ry="8.32" fill="#9c82d4" fill-opacity="0.9"/>
<ellipse cx="320.84" cy="618.54" rx="5.34" ry="4.68" fill="#8a6cc8" fill-opacity="0.8"/>
<ellipse cx="357.58" cy="596.7" rx="8.02" ry="2.6" fill="#c8b8e2" fill-opacity="0.6"/>
<ellipse cx="369.93" cy="623.22" rx="20.04" ry="14.04" fill="#a088d6" fill-opacity="0.9"/>
<ellipse cx="359.58" cy="629.46" rx="6.68" ry="4.16" fill="#d8c4e8" fill-opacity="0.5"/>
</g>
<ellipse cx="363.59" cy="607.1" rx="10.69" ry="5.2" fill="#f2f1f4" fill-opacity="0.75" filter="url(#blur)"/>
<rect x="311.9" y="553.6" width="110" height="85" filter="url(#spkw)"/>
<rect x="311.9" y="553.6" width="110" height="85" filter="url(#spkp)"/>
</g>
<path d="M311.9,556.4V638.6H417.6" fill="none" stroke="#aaa" stroke-width="1.2"/>
<text x="364.5" y="554.3" font-size="8.91" text-anchor="middle" textLength="10.34" lengthAdjust="spacingAndGlyphs">C5</text>
<line x1="309.7" y1="622.7" x2="311.9" y2="622.7" stroke="#222" stroke-width="0.8"/>
<line x1="336.2" y1="638.6" x2="336.2" y2="640.8" stroke="#222" stroke-width="0.8"/>
<text x="336.2" y="646.8" font-size="7.28" text-anchor="middle" textLength="9.58" lengthAdjust="spacingAndGlyphs">−5</text>
<line x1="309.7" y1="596.7" x2="311.9" y2="596.7" stroke="#222" stroke-width="0.8"/>
<line x1="369.6" y1="638.6" x2="369.6" y2="640.8" stroke="#222" stroke-width="0.8"/>
<text x="369.6" y="646.8" font-size="7.28" text-anchor="middle" textLength="4.14" lengthAdjust="spacingAndGlyphs">0</text>
<line x1="309.7" y1="570.7" x2="311.9" y2="570.7" stroke="#222" stroke-width="0.8"/>
<line x1="403" y1="638.6" x2="403" y2="640.8" stroke="#222" stroke-width="0.8"/>
<text x="403" y="646.8" font-size="7.28" text-anchor="middle" textLength="4.14" lengthAdjust="spacingAndGlyphs">5</text>
<text x="364.5" y="653.8" font-size="7.04" text-anchor="middle" textLength="25.71" lengthAdjust="spacingAndGlyphs">UMAP_1</text>
<mask id="fm5" maskUnits="userSpaceOnUse" x="427.7" y="553.6" width="110" height="85"><g filter="url(#edge)">
<path d="M485.8,559.99C487.48,559.16 490.35,559.94 492.81,560.46C495.28,560.97 497.47,561.97 500.56,563.06C503.66,564.14 508.03,565.02 511.39,566.96C514.74,568.89 518.35,572.08 520.67,574.65C522.99,577.23 524.26,579.82 525.28,582.4C526.3,584.98 526.94,587.57 526.82,590.15C526.69,592.73 526.09,595.83 524.54,597.9C523,599.96 520.25,601.23 517.53,602.52C514.81,603.82 511.07,604.87 508.25,605.64C505.42,606.42 503.14,606.64 500.56,607.15C497.99,607.66 494.63,608.96 492.81,608.71C491,608.46 490.45,607.19 489.68,605.64C488.9,604.1 488.65,601.78 488.14,599.46C487.63,597.13 487.25,594.55 486.6,591.71C485.96,588.87 484.91,585.49 484.26,582.4C483.62,579.31 482.98,575.98 482.73,573.14C482.47,570.31 482.22,567.59 482.73,565.4C483.24,563.2 484.12,560.81 485.8,559.99Z" fill="#fff"/>
<path d="M433.96,599.46C434.87,597.39 436.83,595.94 438.64,594.78C440.45,593.61 442.54,592.79 444.85,592.49C447.17,592.18 449.71,592.37 452.53,592.96C455.36,593.55 458.98,595.85 461.82,596.02C464.66,596.2 466.73,594.33 469.57,594C472.41,593.66 476.53,593.48 478.85,594C481.18,594.52 482.1,595.69 483.53,597.12C484.95,598.54 487.15,600.85 487.4,602.52C487.66,604.2 486.49,605.86 485.07,607.15C483.64,608.44 481.18,608.98 478.85,610.27C476.53,611.56 473.42,613.87 471.1,614.9C468.79,615.93 467.53,615.94 464.96,616.46C462.39,616.98 458.77,617.25 455.67,618.02C452.58,618.79 449.48,620.06 446.39,621.09C443.29,622.12 439.17,624.72 437.1,624.21C435.03,623.7 434.61,620.86 433.96,618.02C433.32,615.18 433.23,610.25 433.23,607.15C433.23,604.06 433.06,601.52 433.96,599.46Z" fill="#fff"/>
<path d="M468.03,594.36C470.26,593.15 474.27,593.36 477.38,593.58C480.5,593.8 484.4,594.36 486.74,595.66C489.07,596.96 490.3,599.3 491.41,601.38C492.53,603.46 493.75,606.23 493.42,608.14C493.08,610.05 491.63,612.13 489.41,612.82C487.18,613.51 482.95,612.04 480.06,612.3C477.16,612.56 474.38,614.12 472.04,614.38C469.7,614.64 467.48,614.9 466.03,613.86C464.58,612.82 463.69,610.31 463.36,608.14C463.02,605.97 463.24,603.16 464.02,600.86C464.8,598.56 465.81,595.57 468.03,594.36Z" fill="#fff"/>
<path d="M469.57,618.02C470.35,615.7 471.92,614.37 474.24,613.34C476.57,612.31 480.43,611.83 483.53,611.83C486.62,611.83 489.98,612.31 492.81,613.34C495.65,614.37 499.02,616.21 500.56,618.02C502.11,619.83 502.37,622.15 502.1,624.21C501.83,626.27 500.76,628.85 498.96,630.4C497.16,631.94 494.11,632.82 491.28,633.46C488.45,634.11 484.83,634.5 481.99,634.24C479.15,633.98 476.32,633.07 474.24,631.9C472.17,630.74 470.35,629.59 469.57,627.28C468.79,624.96 468.79,620.34 469.57,618.02Z" fill="#fff"/>
</g></mask>
<g mask="url(#fm5)">
<rect x="427.7" y="553.6" width="110" height="85" fill="#e4e2e8"/>
<g filter="url(#blur)">
<ellipse cx="504.77" cy="584.22" rx="28.06" ry="29.12" fill="#ad94e0" fill-opacity="0.9"/>
<ellipse cx="520.14" cy="577.46" rx="4.68" ry="4.68" fill="#ece6f0" fill-opacity="0.6"/>
<ellipse cx="448.66" cy="601.9" rx="14.7" ry="8.32" fill="#b8a0e2" fill-opacity="0.9"/>
<ellipse cx="437.3" cy="619.06" rx="6.01" ry="5.72" fill="#a890dc" fill-opacity="0.7"/>
<ellipse cx="473.38" cy="596.7" rx="8.02" ry="2.6" fill="#d4c8e8" fill-opacity="0.6"/>
<ellipse cx="485.73" cy="623.22" rx="20.04" ry="14.04" fill="#b8a2e0" fill-opacity="0.9"/>
</g>
<ellipse cx="479.39" cy="607.1" rx="10.69" ry="5.2" fill="#f2f1f4" fill-opacity="0.75" filter="url(#blur)"/>
<rect x="427.7" y="553.6" width="110" height="85" filter="url(#spkw)"/>
<rect x="427.7" y="553.6" width="110" height="85" filter="url(#spkp)"/>
</g>
<path d="M427.7,556.4V638.6H533.4" fill="none" stroke="#aaa" stroke-width="1.2"/>
<text x="480.3" y="554.3" font-size="8.91" text-anchor="middle" textLength="14.32" lengthAdjust="spacingAndGlyphs">F11</text>
<line x1="425.5" y1="622.7" x2="427.7" y2="622.7" stroke="#222" stroke-width="0.8"/>
<line x1="452" y1="638.6" x2="452" y2="640.8" stroke="#222" stroke-width="0.8"/>
<text x="452" y="646.8" font-size="7.28" text-anchor="middle" textLength="9.58" lengthAdjust="spacingAndGlyphs">−5</text>
<line x1="425.5" y1="596.7" x2="427.7" y2="596.7" stroke="#222" stroke-width="0.8"/>
<line x1="485.4" y1="638.6" x2="485.4" y2="640.8" stroke="#222" stroke-width="0.8"/>
<text x="485.4" y="646.8" font-size="7.28" text-anchor="middle" textLength="4.14" lengthAdjust="spacingAndGlyphs">0</text>
<line x1="425.5" y1="570.7" x2="427.7" y2="570.7" stroke="#222" stroke-width="0.8"/>
<line x1="518.8" y1="638.6" x2="518.8" y2="640.8" stroke="#222" stroke-width="0.8"/>
<text x="518.8" y="646.8" font-size="7.28" text-anchor="middle" textLength="4.14" lengthAdjust="spacingAndGlyphs">5</text>
<text x="480.3" y="653.8" font-size="7.04" text-anchor="middle" textLength="25.71" lengthAdjust="spacingAndGlyphs">UMAP_1</text>
<rect x="544.5" y="531.6" width="38.1" height="49.8" rx="1.2" fill="#fff" stroke="#ddd" stroke-width="0.6"/>
<circle cx="553.4" cy="537.1" r="1.3" fill="#d0d0d0"/>
<text x="565.2" y="539.7" font-size="6.76" textLength="14.47" lengthAdjust="spacingAndGlyphs">0.00</text>
<circle cx="553.4" cy="546.8" r="1.3" fill="#f2c2dc"/>
<text x="565.2" y="549.4" font-size="6.76" textLength="14.47" lengthAdjust="spacingAndGlyphs">0.15</text>
<circle cx="553.4" cy="556.5" r="1.3" fill="#e8b2ee"/>
<text x="565.2" y="559.1" font-size="6.76" textLength="14.47" lengthAdjust="spacingAndGlyphs">0.30</text>
<circle cx="553.4" cy="566.2" r="1.3" fill="#c894f0"/>
<text x="565.2" y="568.8" font-size="6.76" textLength="14.47" lengthAdjust="spacingAndGlyphs">0.45</text>
<circle cx="553.4" cy="575.9" r="1.3" fill="#8a6ee2"/>
<text x="565.2" y="578.5" font-size="6.76" textLength="14.47" lengthAdjust="spacingAndGlyphs">0.60</text>
</svg></body></html>
